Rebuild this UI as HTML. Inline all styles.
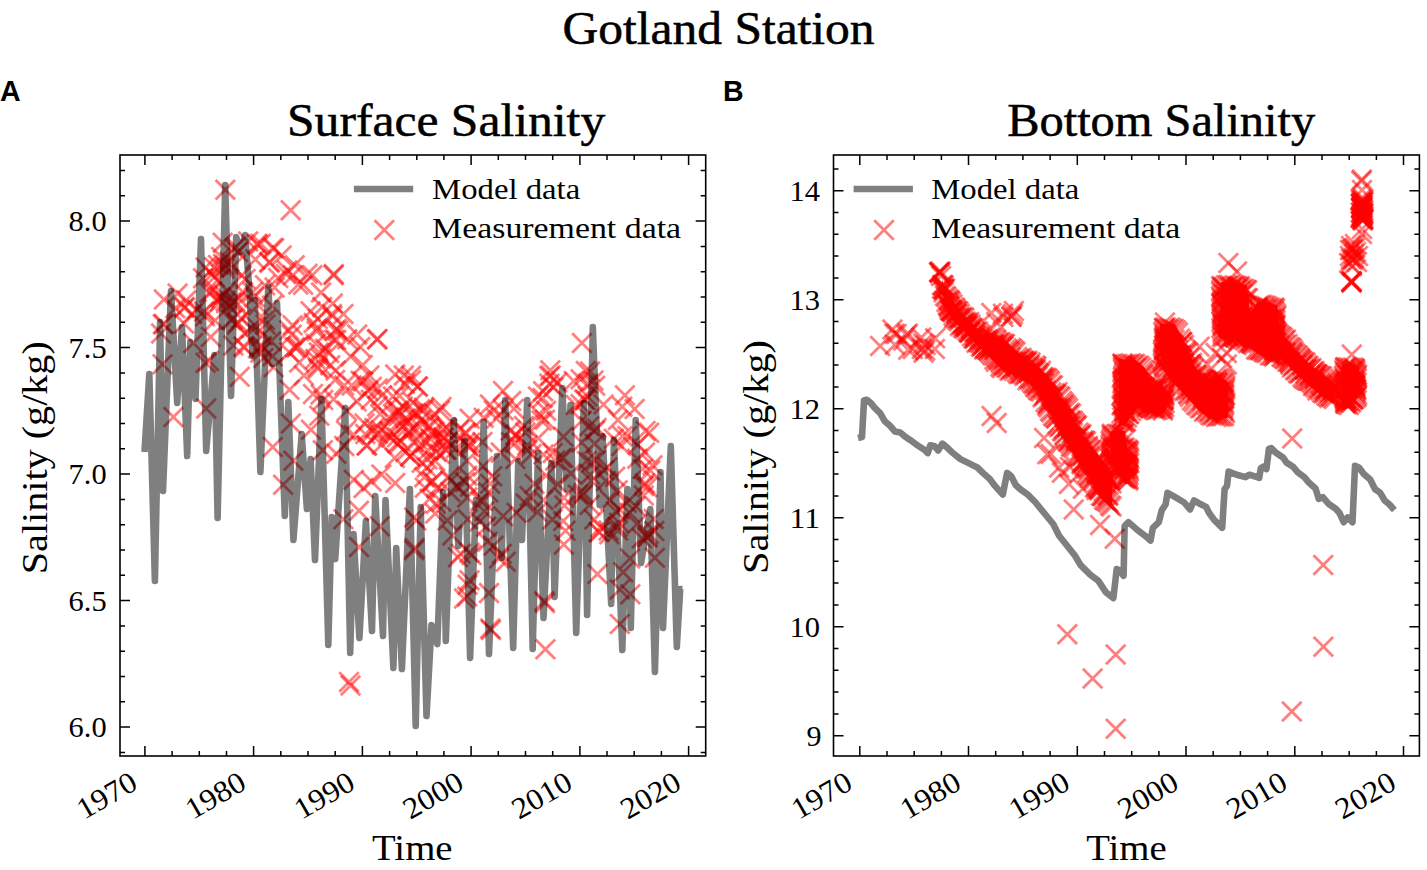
<!DOCTYPE html><html><head><meta charset="utf-8"><style>html,body{margin:0;padding:0;background:#fff;width:1427px;height:870px;overflow:hidden}svg{display:block}text{font-family:"Liberation Serif",serif;fill:#000}.t{stroke:#000;stroke-width:0.5px}</style></head><body>
<svg width="1427" height="870" viewBox="0 0 1427 870">
<defs><path id="m" d="M-9.75,-9.75L9.75,9.75M-9.75,9.75L9.75,-9.75" stroke="#ff0000" stroke-opacity="0.5" stroke-width="2.8" fill="none"/>
<clipPath id="cl"><rect x="120" y="155" width="585.7" height="601"/></clipPath>
<clipPath id="cr"><rect x="833.5" y="155" width="585.9" height="601"/></clipPath></defs>
<rect width="1427" height="870" fill="#fff"/>
<g clip-path="url(#cl)">
<use href="#m" x="225.3" y="189.8"/>
<use href="#m" x="290.7" y="210.2"/>
<use href="#m" x="333.8" y="274"/>
<use href="#m" x="376.9" y="339.5"/>
<use href="#m" x="173.4" y="417"/>
<use href="#m" x="206.2" y="408.4"/>
<use href="#m" x="581.9" y="342.9"/>
<use href="#m" x="349" y="682"/>
<use href="#m" x="350.5" y="685.5"/>
<use href="#m" x="545.4" y="649.3"/>
<use href="#m" x="490.2" y="628.6"/>
<use href="#m" x="491" y="630"/>
<use href="#m" x="469.5" y="580.3"/>
<use href="#m" x="467.2" y="596.4"/>
<use href="#m" x="489" y="592.9"/>
<use href="#m" x="458" y="557.3"/>
<use href="#m" x="469.5" y="552.7"/>
<use href="#m" x="501.7" y="553.8"/>
<use href="#m" x="544.2" y="601"/>
<use href="#m" x="545" y="603"/>
<use href="#m" x="563.8" y="544.6"/>
<use href="#m" x="597.4" y="574"/>
<use href="#m" x="619.8" y="589.5"/>
<use href="#m" x="619.8" y="624"/>
<use href="#m" x="623.2" y="572.2"/>
<use href="#m" x="630.1" y="558.4"/>
<use href="#m" x="637" y="524"/>
<use href="#m" x="644" y="486"/>
<use href="#m" x="647.4" y="537.8"/>
<use href="#m" x="634.6" y="409"/>
<use href="#m" x="649.1" y="432.8"/>
<use href="#m" x="645" y="452.4"/>
<use href="#m" x="645" y="483.5"/>
<use href="#m" x="414.6" y="548.1"/>
<use href="#m" x="416.3" y="520.5"/>
<use href="#m" x="447.4" y="520.5"/>
<use href="#m" x="471.5" y="555"/>
<use href="#m" x="499.1" y="558.4"/>
<use href="#m" x="177.6" y="293.5"/>
<use href="#m" x="196.8" y="309.2"/>
<use href="#m" x="175.3" y="308.3"/>
<use href="#m" x="184.6" y="307"/>
<use href="#m" x="163.8" y="324.1"/>
<use href="#m" x="184.4" y="308"/>
<use href="#m" x="184" y="323.6"/>
<use href="#m" x="203" y="278.3"/>
<use href="#m" x="204" y="311.6"/>
<use href="#m" x="287.1" y="270.4"/>
<use href="#m" x="322.2" y="307"/>
<use href="#m" x="260.7" y="243.8"/>
<use href="#m" x="260.3" y="352.7"/>
<use href="#m" x="364.5" y="423.4"/>
<use href="#m" x="205.6" y="362.7"/>
<use href="#m" x="346.9" y="410.7"/>
<use href="#m" x="234.2" y="248.5"/>
<use href="#m" x="272.6" y="356.3"/>
<use href="#m" x="299.2" y="362.6"/>
<use href="#m" x="242.9" y="292.1"/>
<use href="#m" x="320.6" y="394.4"/>
<use href="#m" x="336.6" y="329.1"/>
<use href="#m" x="347.3" y="339.3"/>
<use href="#m" x="335.7" y="370.4"/>
<use href="#m" x="235.3" y="301.5"/>
<use href="#m" x="289.5" y="389.8"/>
<use href="#m" x="211.8" y="274.4"/>
<use href="#m" x="365.3" y="434.1"/>
<use href="#m" x="229.5" y="261.4"/>
<use href="#m" x="292.9" y="275.3"/>
<use href="#m" x="257.8" y="244.8"/>
<use href="#m" x="321" y="292.6"/>
<use href="#m" x="367.1" y="445.6"/>
<use href="#m" x="333.6" y="399.2"/>
<use href="#m" x="264.9" y="320"/>
<use href="#m" x="329.1" y="353"/>
<use href="#m" x="215" y="320.4"/>
<use href="#m" x="258.1" y="305.2"/>
<use href="#m" x="273.6" y="367.3"/>
<use href="#m" x="237.9" y="322.6"/>
<use href="#m" x="318.9" y="352.6"/>
<use href="#m" x="218" y="265.1"/>
<use href="#m" x="362.7" y="365.1"/>
<use href="#m" x="231.7" y="267.7"/>
<use href="#m" x="292.6" y="325.2"/>
<use href="#m" x="205.5" y="267.6"/>
<use href="#m" x="285.9" y="274"/>
<use href="#m" x="304" y="375.6"/>
<use href="#m" x="220.6" y="297.7"/>
<use href="#m" x="271.2" y="341.3"/>
<use href="#m" x="360.6" y="380.8"/>
<use href="#m" x="244.7" y="333.2"/>
<use href="#m" x="209.4" y="292.7"/>
<use href="#m" x="269.3" y="262.1"/>
<use href="#m" x="315.8" y="343.8"/>
<use href="#m" x="245.6" y="279"/>
<use href="#m" x="317.8" y="319"/>
<use href="#m" x="216" y="300.1"/>
<use href="#m" x="236.8" y="305"/>
<use href="#m" x="237.9" y="251.9"/>
<use href="#m" x="350.7" y="356.4"/>
<use href="#m" x="252.6" y="292.3"/>
<use href="#m" x="318" y="368.6"/>
<use href="#m" x="335.1" y="330.8"/>
<use href="#m" x="274.6" y="287.6"/>
<use href="#m" x="289.2" y="330.2"/>
<use href="#m" x="307.6" y="273.8"/>
<use href="#m" x="265.5" y="324.5"/>
<use href="#m" x="210.8" y="337.1"/>
<use href="#m" x="316.8" y="328.4"/>
<use href="#m" x="278.2" y="278.1"/>
<use href="#m" x="325.2" y="348.7"/>
<use href="#m" x="248.2" y="241.4"/>
<use href="#m" x="261.2" y="347.7"/>
<use href="#m" x="315.2" y="358.9"/>
<use href="#m" x="357.2" y="334.4"/>
<use href="#m" x="303.2" y="284.7"/>
<use href="#m" x="269.7" y="262.7"/>
<use href="#m" x="261.9" y="345.9"/>
<use href="#m" x="323.2" y="400.1"/>
<use href="#m" x="217.3" y="280.5"/>
<use href="#m" x="332.8" y="303.4"/>
<use href="#m" x="235.9" y="247"/>
<use href="#m" x="338.3" y="331.1"/>
<use href="#m" x="274.2" y="248.2"/>
<use href="#m" x="223.5" y="294.8"/>
<use href="#m" x="334" y="339.8"/>
<use href="#m" x="257.1" y="243.8"/>
<use href="#m" x="221.2" y="256.9"/>
<use href="#m" x="238.6" y="298.6"/>
<use href="#m" x="263.5" y="358.1"/>
<use href="#m" x="251.3" y="328"/>
<use href="#m" x="220" y="301.4"/>
<use href="#m" x="294.6" y="347.3"/>
<use href="#m" x="271.9" y="305.8"/>
<use href="#m" x="331.8" y="314"/>
<use href="#m" x="291.7" y="334.8"/>
<use href="#m" x="332.4" y="316.1"/>
<use href="#m" x="272.6" y="248.1"/>
<use href="#m" x="313" y="394"/>
<use href="#m" x="262.6" y="335.6"/>
<use href="#m" x="312.3" y="275.2"/>
<use href="#m" x="281.6" y="255.6"/>
<use href="#m" x="256.1" y="326.5"/>
<use href="#m" x="225.5" y="300.7"/>
<use href="#m" x="214.2" y="267.2"/>
<use href="#m" x="360.2" y="347"/>
<use href="#m" x="233.4" y="345.6"/>
<use href="#m" x="255.3" y="259.4"/>
<use href="#m" x="220.7" y="296.8"/>
<use href="#m" x="214.6" y="277.1"/>
<use href="#m" x="241.2" y="318.6"/>
<use href="#m" x="231.4" y="302.3"/>
<use href="#m" x="244.4" y="347.5"/>
<use href="#m" x="366.5" y="445.5"/>
<use href="#m" x="351.7" y="385.4"/>
<use href="#m" x="356.7" y="401.6"/>
<use href="#m" x="231" y="320.1"/>
<use href="#m" x="343.4" y="313.9"/>
<use href="#m" x="236.8" y="324.8"/>
<use href="#m" x="330.2" y="365.3"/>
<use href="#m" x="224.9" y="265.5"/>
<use href="#m" x="243.4" y="346.4"/>
<use href="#m" x="241.7" y="275.5"/>
<use href="#m" x="317.3" y="366.7"/>
<use href="#m" x="296.6" y="347.6"/>
<use href="#m" x="346" y="430.4"/>
<use href="#m" x="222.7" y="242.8"/>
<use href="#m" x="353.9" y="434.9"/>
<use href="#m" x="265" y="285.2"/>
<use href="#m" x="316.6" y="330.9"/>
<use href="#m" x="223.1" y="263.9"/>
<use href="#m" x="254.5" y="297"/>
<use href="#m" x="232.9" y="319.1"/>
<use href="#m" x="363.1" y="381.6"/>
<use href="#m" x="298" y="346.2"/>
<use href="#m" x="335.1" y="380.1"/>
<use href="#m" x="289.2" y="352.2"/>
<use href="#m" x="208.9" y="360.9"/>
<use href="#m" x="457.9" y="486.7"/>
<use href="#m" x="388.2" y="436.1"/>
<use href="#m" x="370.8" y="399.8"/>
<use href="#m" x="389.5" y="431.6"/>
<use href="#m" x="393" y="396.4"/>
<use href="#m" x="447.4" y="441.9"/>
<use href="#m" x="424" y="407.8"/>
<use href="#m" x="424.3" y="477.3"/>
<use href="#m" x="446.5" y="449.8"/>
<use href="#m" x="380.8" y="429.9"/>
<use href="#m" x="398.7" y="415.9"/>
<use href="#m" x="389" y="417.5"/>
<use href="#m" x="436.2" y="451.7"/>
<use href="#m" x="432.6" y="481.2"/>
<use href="#m" x="449" y="477.3"/>
<use href="#m" x="467" y="460.8"/>
<use href="#m" x="421.7" y="462.8"/>
<use href="#m" x="465.1" y="482.3"/>
<use href="#m" x="459.7" y="429.5"/>
<use href="#m" x="410.2" y="456.5"/>
<use href="#m" x="441.3" y="501.8"/>
<use href="#m" x="394.6" y="415.5"/>
<use href="#m" x="409.3" y="430.9"/>
<use href="#m" x="377.3" y="406.5"/>
<use href="#m" x="432.2" y="481.8"/>
<use href="#m" x="391" y="437.4"/>
<use href="#m" x="443.1" y="429.7"/>
<use href="#m" x="369.4" y="375.4"/>
<use href="#m" x="435.9" y="503.8"/>
<use href="#m" x="406.7" y="422.9"/>
<use href="#m" x="430.7" y="439.2"/>
<use href="#m" x="371.9" y="386.7"/>
<use href="#m" x="428.1" y="450.6"/>
<use href="#m" x="402.7" y="426.8"/>
<use href="#m" x="381.7" y="444.5"/>
<use href="#m" x="405.4" y="452.1"/>
<use href="#m" x="424.8" y="487.8"/>
<use href="#m" x="447.6" y="429"/>
<use href="#m" x="413.1" y="402.5"/>
<use href="#m" x="443.5" y="438"/>
<use href="#m" x="465.7" y="433.6"/>
<use href="#m" x="418.8" y="445.9"/>
<use href="#m" x="450.7" y="480.8"/>
<use href="#m" x="456.1" y="448.2"/>
<use href="#m" x="377.7" y="388.6"/>
<use href="#m" x="372.6" y="430.9"/>
<use href="#m" x="436.6" y="488.4"/>
<use href="#m" x="446.1" y="427.6"/>
<use href="#m" x="374.4" y="428.1"/>
<use href="#m" x="368.1" y="390.8"/>
<use href="#m" x="426.8" y="467.5"/>
<use href="#m" x="429.6" y="498.8"/>
<use href="#m" x="465.5" y="442.4"/>
<use href="#m" x="399.5" y="395.7"/>
<use href="#m" x="380.1" y="414"/>
<use href="#m" x="432.2" y="432.2"/>
<use href="#m" x="377.9" y="433.8"/>
<use href="#m" x="435.2" y="460.9"/>
<use href="#m" x="382.1" y="395.2"/>
<use href="#m" x="394.8" y="458"/>
<use href="#m" x="441.4" y="406.9"/>
<use href="#m" x="441.9" y="441.5"/>
<use href="#m" x="434.9" y="414.3"/>
<use href="#m" x="443.4" y="437.3"/>
<use href="#m" x="402.8" y="406.4"/>
<use href="#m" x="414.5" y="428.2"/>
<use href="#m" x="397.2" y="443.2"/>
<use href="#m" x="429" y="425.7"/>
<use href="#m" x="420.1" y="409.2"/>
<use href="#m" x="432.6" y="434.7"/>
<use href="#m" x="397.1" y="437.3"/>
<use href="#m" x="413.4" y="442.3"/>
<use href="#m" x="412.8" y="413.5"/>
<use href="#m" x="405.6" y="418.3"/>
<use href="#m" x="399.5" y="411.5"/>
<use href="#m" x="419.2" y="427.1"/>
<use href="#m" x="423.3" y="410.3"/>
<use href="#m" x="397.2" y="410.9"/>
<use href="#m" x="440.1" y="410.5"/>
<use href="#m" x="429.5" y="427.2"/>
<use href="#m" x="425.4" y="442.5"/>
<use href="#m" x="408.5" y="433.1"/>
<use href="#m" x="421.4" y="419.7"/>
<use href="#m" x="415.7" y="413.1"/>
<use href="#m" x="400.9" y="441.9"/>
<use href="#m" x="403.8" y="375.4"/>
<use href="#m" x="411.1" y="375.7"/>
<use href="#m" x="404.8" y="383.7"/>
<use href="#m" x="410.9" y="380.2"/>
<use href="#m" x="418" y="386.4"/>
<use href="#m" x="395.2" y="374.4"/>
<use href="#m" x="514" y="408.8"/>
<use href="#m" x="564" y="497.8"/>
<use href="#m" x="606" y="480.9"/>
<use href="#m" x="546.1" y="410.7"/>
<use href="#m" x="617.7" y="490.3"/>
<use href="#m" x="591.1" y="462.3"/>
<use href="#m" x="615.2" y="476.8"/>
<use href="#m" x="515" y="442.9"/>
<use href="#m" x="523.9" y="425.9"/>
<use href="#m" x="635.7" y="506.2"/>
<use href="#m" x="581.6" y="442.4"/>
<use href="#m" x="557.2" y="382.5"/>
<use href="#m" x="555.2" y="460.4"/>
<use href="#m" x="531.6" y="454.1"/>
<use href="#m" x="654.9" y="557.7"/>
<use href="#m" x="479.6" y="521.6"/>
<use href="#m" x="616" y="511.3"/>
<use href="#m" x="617.9" y="419.9"/>
<use href="#m" x="490.1" y="483.7"/>
<use href="#m" x="622.3" y="406.7"/>
<use href="#m" x="467.7" y="519.2"/>
<use href="#m" x="637.9" y="444.6"/>
<use href="#m" x="622.5" y="436.2"/>
<use href="#m" x="624.9" y="395.3"/>
<use href="#m" x="580.6" y="404.3"/>
<use href="#m" x="585.8" y="371"/>
<use href="#m" x="588" y="383.8"/>
<use href="#m" x="549.3" y="376.3"/>
<use href="#m" x="537.9" y="396.6"/>
<use href="#m" x="527.3" y="450.5"/>
<use href="#m" x="590.2" y="474.8"/>
<use href="#m" x="564.5" y="505.6"/>
<use href="#m" x="543.1" y="391.3"/>
<use href="#m" x="595.2" y="430.5"/>
<use href="#m" x="642.6" y="468.9"/>
<use href="#m" x="467.6" y="446.1"/>
<use href="#m" x="647.3" y="487.3"/>
<use href="#m" x="621.3" y="445.9"/>
<use href="#m" x="580.6" y="379.3"/>
<use href="#m" x="503.5" y="410.2"/>
<use href="#m" x="541.5" y="420.5"/>
<use href="#m" x="571" y="473.4"/>
<use href="#m" x="510.6" y="430.4"/>
<use href="#m" x="469.7" y="418.8"/>
<use href="#m" x="537.5" y="512"/>
<use href="#m" x="500.8" y="452.4"/>
<use href="#m" x="467.4" y="475.8"/>
<use href="#m" x="545" y="419.7"/>
<use href="#m" x="539.1" y="414"/>
<use href="#m" x="542.5" y="398.1"/>
<use href="#m" x="600.4" y="527.3"/>
<use href="#m" x="637.3" y="458.8"/>
<use href="#m" x="467.2" y="497.6"/>
<use href="#m" x="552.7" y="453.1"/>
<use href="#m" x="589.6" y="504.9"/>
<use href="#m" x="563.4" y="436.8"/>
<use href="#m" x="490" y="404.6"/>
<use href="#m" x="496.4" y="418.4"/>
<use href="#m" x="643.8" y="495.4"/>
<use href="#m" x="470.2" y="442.7"/>
<use href="#m" x="543.3" y="500"/>
<use href="#m" x="543.5" y="454.6"/>
<use href="#m" x="515.2" y="435.6"/>
<use href="#m" x="480.2" y="501"/>
<use href="#m" x="557.9" y="484.2"/>
<use href="#m" x="573.7" y="381"/>
<use href="#m" x="516.1" y="434.6"/>
<use href="#m" x="613.8" y="438.7"/>
<use href="#m" x="648.5" y="533.7"/>
<use href="#m" x="596.2" y="460"/>
<use href="#m" x="596.6" y="428.1"/>
<use href="#m" x="484.4" y="511.3"/>
<use href="#m" x="552.3" y="519.5"/>
<use href="#m" x="604.1" y="470.2"/>
<use href="#m" x="546.1" y="475.5"/>
<use href="#m" x="511.1" y="442.2"/>
<use href="#m" x="525.7" y="503.4"/>
<use href="#m" x="645.5" y="431.1"/>
<use href="#m" x="469.7" y="447"/>
<use href="#m" x="594.7" y="443.7"/>
<use href="#m" x="609.4" y="534.3"/>
<use href="#m" x="591.6" y="480.8"/>
<use href="#m" x="492.2" y="476.3"/>
<use href="#m" x="584.2" y="399.6"/>
<use href="#m" x="469.9" y="486.8"/>
<use href="#m" x="653.7" y="519"/>
<use href="#m" x="503.1" y="516.2"/>
<use href="#m" x="525.3" y="432.4"/>
<use href="#m" x="619.6" y="509.5"/>
<use href="#m" x="641.9" y="538.3"/>
<use href="#m" x="465.4" y="432.4"/>
<use href="#m" x="575.7" y="404.9"/>
<use href="#m" x="626.7" y="502.8"/>
<use href="#m" x="608.6" y="530.4"/>
<use href="#m" x="599.5" y="532.2"/>
<use href="#m" x="553.6" y="387.2"/>
<use href="#m" x="563.2" y="520.9"/>
<use href="#m" x="581.7" y="420.7"/>
<use href="#m" x="483.7" y="417.8"/>
<use href="#m" x="488.3" y="492.6"/>
<use href="#m" x="527.4" y="445.2"/>
<use href="#m" x="650.3" y="470.6"/>
<use href="#m" x="589.2" y="426.2"/>
<use href="#m" x="538.3" y="438.3"/>
<use href="#m" x="549.5" y="383.8"/>
<use href="#m" x="586.9" y="461"/>
<use href="#m" x="486.2" y="526.7"/>
<use href="#m" x="652.5" y="465.3"/>
<use href="#m" x="529.7" y="496.3"/>
<use href="#m" x="561.2" y="458.1"/>
<use href="#m" x="610.2" y="500.4"/>
<use href="#m" x="515.4" y="459"/>
<use href="#m" x="619" y="522.8"/>
<use href="#m" x="629.6" y="512.8"/>
<use href="#m" x="590.1" y="371.5"/>
<use href="#m" x="534.5" y="483.7"/>
<use href="#m" x="511.2" y="400.9"/>
<use href="#m" x="577.9" y="494.8"/>
<use href="#m" x="654.3" y="531.1"/>
<use href="#m" x="550.3" y="370.3"/>
<use href="#m" x="594.2" y="519.5"/>
<use href="#m" x="563.4" y="457.8"/>
<use href="#m" x="482.5" y="442"/>
<use href="#m" x="452.3" y="535.5"/>
<use href="#m" x="319.3" y="415.8"/>
<use href="#m" x="450.3" y="492.1"/>
<use href="#m" x="257.9" y="348.3"/>
<use href="#m" x="226.1" y="303.2"/>
<use href="#m" x="598.6" y="532"/>
<use href="#m" x="627.4" y="436"/>
<use href="#m" x="607.5" y="467.3"/>
<use href="#m" x="239.7" y="376.7"/>
<use href="#m" x="630.3" y="594.3"/>
<use href="#m" x="336.2" y="340"/>
<use href="#m" x="617.6" y="526.8"/>
<use href="#m" x="618" y="530.6"/>
<use href="#m" x="647.4" y="536.4"/>
<use href="#m" x="565.5" y="530.7"/>
<use href="#m" x="371.6" y="481.4"/>
<use href="#m" x="363.6" y="488"/>
<use href="#m" x="427.5" y="459.3"/>
<use href="#m" x="162.9" y="324.2"/>
<use href="#m" x="294.7" y="265.3"/>
<use href="#m" x="313.6" y="323"/>
<use href="#m" x="212.1" y="291.3"/>
<use href="#m" x="585.6" y="399.9"/>
<use href="#m" x="505.8" y="561.8"/>
<use href="#m" x="162.5" y="364.2"/>
<use href="#m" x="224.8" y="268.8"/>
<use href="#m" x="311" y="429.7"/>
<use href="#m" x="593.5" y="380.6"/>
<use href="#m" x="550.7" y="375.6"/>
<use href="#m" x="336.3" y="453.8"/>
<use href="#m" x="595.2" y="385.7"/>
<use href="#m" x="439.8" y="453.7"/>
<use href="#m" x="493.5" y="545.7"/>
<use href="#m" x="435.2" y="513.6"/>
<use href="#m" x="603.5" y="404.6"/>
<use href="#m" x="186.3" y="300.2"/>
<use href="#m" x="410.4" y="456.2"/>
<use href="#m" x="582.6" y="495.2"/>
<use href="#m" x="483.2" y="501.1"/>
<use href="#m" x="483.1" y="466.3"/>
<use href="#m" x="487.4" y="541.8"/>
<use href="#m" x="583.7" y="492.9"/>
<use href="#m" x="493.8" y="410.4"/>
<use href="#m" x="321" y="358.5"/>
<use href="#m" x="310.6" y="311.2"/>
<use href="#m" x="344.2" y="445.9"/>
<use href="#m" x="290.8" y="423.4"/>
<use href="#m" x="161.1" y="333.5"/>
<use href="#m" x="516.5" y="512.7"/>
<use href="#m" x="163.9" y="299.6"/>
<use href="#m" x="193.2" y="343"/>
<use href="#m" x="205.1" y="316.3"/>
<use href="#m" x="298.3" y="284.5"/>
<use href="#m" x="344.2" y="385.4"/>
<use href="#m" x="445.4" y="449.8"/>
<use href="#m" x="192.2" y="314.1"/>
<use href="#m" x="503" y="391.1"/>
<use href="#m" x="417.4" y="386.5"/>
<use href="#m" x="587.5" y="396.4"/>
<use href="#m" x="272.8" y="446.9"/>
<use href="#m" x="293.4" y="460.7"/>
<use href="#m" x="283.1" y="484.8"/>
<use href="#m" x="322.8" y="450.3"/>
<use href="#m" x="353.8" y="479.7"/>
<use href="#m" x="359" y="510.7"/>
<use href="#m" x="343.4" y="519.3"/>
<use href="#m" x="359" y="546.9"/>
<use href="#m" x="379.7" y="526.2"/>
<use href="#m" x="381.4" y="474.5"/>
<use href="#m" x="395.2" y="483.1"/>
<use href="#m" x="414.1" y="517.6"/>
<use href="#m" x="414.1" y="550.3"/>
<use href="#m" x="460.7" y="553.8"/>
<use href="#m" x="467.6" y="584.8"/>
<use href="#m" x="464.1" y="598.6"/>
<use href="#m" x="333.6" y="275.2"/>
<use href="#m" x="377.6" y="339"/>
</g>
<path clip-path="url(#cl)" d="M144.5,452L149.3,374L154.9,581L160.1,322L163,491L171,291L177.2,403L182,327L187.2,456L190.3,342L195.5,399L201,239L206.2,451L214.5,355L217.6,518L225.2,185L231,396L236.2,237L240.5,252L245.1,235L250,298L252.5,356L254.8,300L260.4,472L268.3,287L272.4,364L277,303L284.8,516L288.3,402L293.4,540L301.7,434L306.9,509L310.6,459L315,560L321.4,399L328.3,645L331.7,517L335.2,559L345.2,408L350.2,653L353.5,534L359.4,638L365.9,521L372,631L375.2,496L383,636L385.5,500L393.4,668L396.2,548L401.9,669L409.9,489L415.7,726L420.7,507L426.5,716L431.5,625L437.3,644L443.2,492L445.8,641L453.7,420L458.3,546L464.5,441L470.1,658L476,500L480,521L483.7,422L489,654L497,456L501.7,558L505.2,400L513.2,648L518.3,461L522,540L527.2,400L532.7,649L538,453L543.5,618L551.4,463L554.6,597L562.3,388L566.9,489L570.5,405L576.2,633L583.9,403L587.1,615L592.8,327L599.7,505L602.6,436L611.2,604L613.9,440L622.3,650L627.4,489L630.8,628L635.7,420L641.1,563L650.3,509L654.9,672L660.5,472L663,628L670.8,446L676.8,647L680.2,589L682.5,589" fill="none" stroke="#000" stroke-opacity="0.5" stroke-width="6.6" stroke-linejoin="round" stroke-linecap="butt"/>
<g clip-path="url(#cr)" fill="#ff0000">
<path d="M942,280L946,290L952,303L968,321L985,336L1003,341L1020,355L1037,366L1046,376L1055,388L1069,410L1085,439L1095,452L1104,463L1112,482L1112,508L1104,501L1095,488L1085,471L1069,446L1055,422L1046,404L1037,390L1020,375L1003,369L985,352L968,335L952,317L946,306L942,290Z"/>
<path d="M1110,432L1112,431L1119,431L1125,431L1130,474L1130,484L1125,484L1119,476L1112,464L1110,436Z"/>
<path d="M1119,358L1125,360L1134,360L1140,363L1145,368L1152,386L1159,381L1164,387L1168,397L1168,405L1164,413L1159,414L1152,413L1145,409L1140,407L1134,410L1125,426L1119,425Z"/>
<path d="M1160,324L1166,324L1175,324L1187,347L1198,374L1210,379L1219,375L1230,384L1228,385L1228,417L1230,417L1219,420L1210,419L1198,410L1187,397L1175,385L1166,374L1160,353Z"/>
<path d="M1218,319L1220,319L1221,282L1233,282L1247,285L1250,314L1258,301L1277,305L1279,319L1279,367L1277,361L1258,354L1250,347L1247,345L1233,341L1221,339L1220,338L1218,336Z"/>
<path d="M1274,325L1284,336L1295,350L1318,372L1334,383L1334,403L1318,392L1295,372L1284,360L1274,351Z"/>
<path d="M1342,365L1350,363L1359,367L1359,393L1350,408L1342,409Z"/>
</g>
<g clip-path="url(#cr)">
<use href="#m" x="991.6" y="416"/>
<use href="#m" x="996.7" y="423"/>
<use href="#m" x="1067.3" y="634.2"/>
<use href="#m" x="1092.6" y="678.4"/>
<use href="#m" x="1115.7" y="654.6"/>
<use href="#m" x="1115.7" y="728.8"/>
<use href="#m" x="1291.8" y="711.4"/>
<use href="#m" x="1323.4" y="646.8"/>
<use href="#m" x="1292.2" y="438.6"/>
<use href="#m" x="1323.2" y="565.1"/>
<use href="#m" x="1073.7" y="509.4"/>
<use href="#m" x="1100.1" y="525"/>
<use href="#m" x="1114.8" y="538.7"/>
<use href="#m" x="1068.9" y="484"/>
<use href="#m" x="1059.1" y="467.4"/>
<use href="#m" x="1361.4" y="181"/>
<use href="#m" x="1351.8" y="281.1"/>
<use href="#m" x="1351.8" y="354.4"/>
<use href="#m" x="1228.4" y="262.9"/>
<use href="#m" x="1237" y="271.6"/>
<use href="#m" x="1165" y="322.4"/>
<use href="#m" x="912.8" y="349"/>
<use href="#m" x="934.9" y="348.9"/>
<use href="#m" x="923.1" y="343.6"/>
<use href="#m" x="894.3" y="333.8"/>
<use href="#m" x="921.3" y="337.4"/>
<use href="#m" x="903.2" y="340.6"/>
<use href="#m" x="925.2" y="350.4"/>
<use href="#m" x="880.1" y="345.9"/>
<use href="#m" x="894.8" y="344.7"/>
<use href="#m" x="925.6" y="345"/>
<use href="#m" x="907.9" y="333.6"/>
<use href="#m" x="908.2" y="349.8"/>
<use href="#m" x="892.4" y="329.6"/>
<use href="#m" x="935.1" y="338.3"/>
<use href="#m" x="906.6" y="335"/>
<use href="#m" x="923.5" y="352.7"/>
<use href="#m" x="896.6" y="333.9"/>
<use href="#m" x="921.9" y="348.9"/>
<use href="#m" x="939.5" y="272.5"/>
<use href="#m" x="940" y="273"/>
<use href="#m" x="939" y="272"/>
<use href="#m" x="940.5" y="271.5"/>
<use href="#m" x="939.7" y="272.2"/>
<use href="#m" x="941" y="276"/>
<use href="#m" x="943" y="285"/>
<use href="#m" x="944" y="290"/>
<use href="#m" x="1051.2" y="392.5"/>
<use href="#m" x="956.8" y="313.5"/>
<use href="#m" x="1076" y="426.3"/>
<use href="#m" x="1032.7" y="371.7"/>
<use href="#m" x="991" y="345.4"/>
<use href="#m" x="1042.6" y="378.7"/>
<use href="#m" x="969" y="331.8"/>
<use href="#m" x="1070.3" y="426"/>
<use href="#m" x="984.3" y="344.2"/>
<use href="#m" x="1100.5" y="486.4"/>
<use href="#m" x="1017.3" y="365.5"/>
<use href="#m" x="1003.1" y="359.6"/>
<use href="#m" x="1030" y="364.9"/>
<use href="#m" x="1056.6" y="418.1"/>
<use href="#m" x="1024.4" y="363.3"/>
<use href="#m" x="993.6" y="344.4"/>
<use href="#m" x="1084.8" y="460.8"/>
<use href="#m" x="992.5" y="345.6"/>
<use href="#m" x="963.5" y="322.4"/>
<use href="#m" x="1107.9" y="495.1"/>
<use href="#m" x="1101" y="464.7"/>
<use href="#m" x="1099.3" y="488.6"/>
<use href="#m" x="1079.8" y="436.1"/>
<use href="#m" x="1089.7" y="475.4"/>
<use href="#m" x="1067.9" y="426.6"/>
<use href="#m" x="1000.3" y="361"/>
<use href="#m" x="1043.7" y="383.3"/>
<use href="#m" x="956" y="310.6"/>
<use href="#m" x="1061.3" y="409.5"/>
<use href="#m" x="964.5" y="322.5"/>
<use href="#m" x="1020.5" y="370.3"/>
<use href="#m" x="1022.6" y="361.6"/>
<use href="#m" x="1082.8" y="456"/>
<use href="#m" x="1034.8" y="383.3"/>
<use href="#m" x="1010.9" y="357.6"/>
<use href="#m" x="951.3" y="310.2"/>
<use href="#m" x="1047.7" y="403.2"/>
<use href="#m" x="943.3" y="288.8"/>
<use href="#m" x="1016.4" y="361.5"/>
<use href="#m" x="949.4" y="307.5"/>
<use href="#m" x="949.3" y="305.9"/>
<use href="#m" x="995.1" y="348.9"/>
<use href="#m" x="1084.5" y="446.3"/>
<use href="#m" x="1029" y="368.1"/>
<use href="#m" x="1045.7" y="390.6"/>
<use href="#m" x="1055.4" y="394.4"/>
<use href="#m" x="1049.6" y="399.9"/>
<use href="#m" x="953.5" y="315.5"/>
<use href="#m" x="1086.6" y="465.3"/>
<use href="#m" x="1075.7" y="439.3"/>
<use href="#m" x="1097.6" y="462.9"/>
<use href="#m" x="1068.4" y="441.3"/>
<use href="#m" x="952.7" y="311.9"/>
<use href="#m" x="1107.4" y="478"/>
<use href="#m" x="1037.1" y="385.2"/>
<use href="#m" x="986.8" y="341.9"/>
<use href="#m" x="1064" y="428.4"/>
<use href="#m" x="1102.1" y="484.3"/>
<use href="#m" x="951.2" y="311"/>
<use href="#m" x="990.6" y="348.3"/>
<use href="#m" x="1064.6" y="434.7"/>
<use href="#m" x="1035.7" y="370.7"/>
<use href="#m" x="1029" y="372.8"/>
<use href="#m" x="1069.9" y="420.2"/>
<use href="#m" x="1035.8" y="369.1"/>
<use href="#m" x="1109.5" y="479.5"/>
<use href="#m" x="1034" y="370.1"/>
<use href="#m" x="988.7" y="345"/>
<use href="#m" x="985" y="341.6"/>
<use href="#m" x="994.5" y="349.8"/>
<use href="#m" x="1104.6" y="473.9"/>
<use href="#m" x="971.3" y="327.3"/>
<use href="#m" x="1097.7" y="482.2"/>
<use href="#m" x="1083.2" y="442.7"/>
<use href="#m" x="1017" y="365.9"/>
<use href="#m" x="1032.3" y="378.4"/>
<use href="#m" x="975" y="338.2"/>
<use href="#m" x="1042.6" y="387.8"/>
<use href="#m" x="1041.6" y="383"/>
<use href="#m" x="944.1" y="289.5"/>
<use href="#m" x="1023.8" y="361.7"/>
<use href="#m" x="1043.2" y="379.8"/>
<use href="#m" x="1058.4" y="407.9"/>
<use href="#m" x="1053.8" y="396.5"/>
<use href="#m" x="963.2" y="323.9"/>
<use href="#m" x="1082.3" y="442.8"/>
<use href="#m" x="948.2" y="305.9"/>
<use href="#m" x="1070.1" y="437.7"/>
<use href="#m" x="1076.4" y="438.2"/>
<use href="#m" x="1103.7" y="491.4"/>
<use href="#m" x="1070.5" y="443.6"/>
<use href="#m" x="1096.4" y="473.8"/>
<use href="#m" x="951.6" y="309.9"/>
<use href="#m" x="1026.3" y="362.3"/>
<use href="#m" x="995.4" y="355.8"/>
<use href="#m" x="1048.2" y="403.8"/>
<use href="#m" x="1070.5" y="421.2"/>
<use href="#m" x="1063.3" y="405.3"/>
<use href="#m" x="1089.8" y="456.4"/>
<use href="#m" x="1107.1" y="474.6"/>
<use href="#m" x="1068.2" y="414.8"/>
<use href="#m" x="1088.7" y="469.3"/>
<use href="#m" x="1029.1" y="373"/>
<use href="#m" x="979.4" y="337.5"/>
<use href="#m" x="967.2" y="326.3"/>
<use href="#m" x="965.5" y="326.2"/>
<use href="#m" x="1025.8" y="367.2"/>
<use href="#m" x="1000.9" y="363"/>
<use href="#m" x="1103.1" y="496.1"/>
<use href="#m" x="1003.6" y="346.3"/>
<use href="#m" x="969.7" y="332.5"/>
<use href="#m" x="1001.7" y="346.7"/>
<use href="#m" x="1104.5" y="474.1"/>
<use href="#m" x="1037.3" y="376.8"/>
<use href="#m" x="965.5" y="324.1"/>
<use href="#m" x="1076" y="441.1"/>
<use href="#m" x="1087.8" y="446.1"/>
<use href="#m" x="960.3" y="318.8"/>
<use href="#m" x="1051.2" y="396.3"/>
<use href="#m" x="988.9" y="350.4"/>
<use href="#m" x="1087" y="462"/>
<use href="#m" x="964.5" y="326"/>
<use href="#m" x="1045.3" y="394.1"/>
<use href="#m" x="1067.1" y="426.7"/>
<use href="#m" x="1007.4" y="364.3"/>
<use href="#m" x="1099.3" y="489.8"/>
<use href="#m" x="993.6" y="344.7"/>
<use href="#m" x="974.7" y="335.9"/>
<use href="#m" x="1105.9" y="477.5"/>
<use href="#m" x="1018.4" y="364.7"/>
<use href="#m" x="1012.8" y="361.6"/>
<use href="#m" x="1005.1" y="358"/>
<use href="#m" x="1108.3" y="495.7"/>
<use href="#m" x="1105.7" y="482.4"/>
<use href="#m" x="967.4" y="325"/>
<use href="#m" x="981.3" y="343.1"/>
<use href="#m" x="979.9" y="339.8"/>
<use href="#m" x="1099.6" y="473.7"/>
<use href="#m" x="982.3" y="345.2"/>
<use href="#m" x="1108.4" y="478.3"/>
<use href="#m" x="1081.8" y="462.4"/>
<use href="#m" x="992.4" y="346.4"/>
<use href="#m" x="974.6" y="331.7"/>
<use href="#m" x="1072.8" y="432.7"/>
<use href="#m" x="994.6" y="347.6"/>
<use href="#m" x="1096.3" y="486.7"/>
<use href="#m" x="996.3" y="346.8"/>
<use href="#m" x="987.8" y="349.1"/>
<use href="#m" x="1096.5" y="462.7"/>
<use href="#m" x="959.8" y="317.4"/>
<use href="#m" x="1083.1" y="461"/>
<use href="#m" x="1103.5" y="478.8"/>
<use href="#m" x="949.4" y="300.7"/>
<use href="#m" x="1079.1" y="441.6"/>
<use href="#m" x="971" y="329"/>
<use href="#m" x="959" y="321.2"/>
<use href="#m" x="1015.1" y="362.2"/>
<use href="#m" x="976" y="335.7"/>
<use href="#m" x="985.1" y="348.5"/>
<use href="#m" x="1089.1" y="467.2"/>
<use href="#m" x="1037.9" y="383.5"/>
<use href="#m" x="956.4" y="313.8"/>
<use href="#m" x="942" y="285.3"/>
<use href="#m" x="942" y="288.7"/>
<use href="#m" x="943.5" y="285.6"/>
<use href="#m" x="943.5" y="292.3"/>
<use href="#m" x="945" y="288.3"/>
<use href="#m" x="945" y="296"/>
<use href="#m" x="946.5" y="296.8"/>
<use href="#m" x="946.5" y="302"/>
<use href="#m" x="948" y="299.1"/>
<use href="#m" x="948" y="304.7"/>
<use href="#m" x="949.5" y="300.3"/>
<use href="#m" x="949.5" y="309.7"/>
<use href="#m" x="951" y="301.9"/>
<use href="#m" x="951" y="310.9"/>
<use href="#m" x="952.5" y="304.4"/>
<use href="#m" x="952.5" y="311.6"/>
<use href="#m" x="954" y="307.5"/>
<use href="#m" x="954" y="318.3"/>
<use href="#m" x="955.5" y="308.3"/>
<use href="#m" x="955.5" y="317.5"/>
<use href="#m" x="957" y="311"/>
<use href="#m" x="957" y="319.7"/>
<use href="#m" x="958.5" y="311.6"/>
<use href="#m" x="958.5" y="318.6"/>
<use href="#m" x="960" y="314"/>
<use href="#m" x="960" y="325.9"/>
<use href="#m" x="961.5" y="317.2"/>
<use href="#m" x="961.5" y="324.4"/>
<use href="#m" x="963" y="317.1"/>
<use href="#m" x="963" y="327.7"/>
<use href="#m" x="964.5" y="318"/>
<use href="#m" x="964.5" y="328.7"/>
<use href="#m" x="966" y="321.7"/>
<use href="#m" x="966" y="327.2"/>
<use href="#m" x="967.5" y="323.4"/>
<use href="#m" x="967.5" y="330.5"/>
<use href="#m" x="969" y="321.9"/>
<use href="#m" x="969" y="332.7"/>
<use href="#m" x="970.5" y="324.4"/>
<use href="#m" x="970.5" y="332.1"/>
<use href="#m" x="972" y="328.6"/>
<use href="#m" x="972" y="336.3"/>
<use href="#m" x="973.5" y="328.2"/>
<use href="#m" x="973.5" y="338.7"/>
<use href="#m" x="975" y="332.4"/>
<use href="#m" x="975" y="338.2"/>
<use href="#m" x="976.5" y="331.7"/>
<use href="#m" x="976.5" y="342.8"/>
<use href="#m" x="978" y="331.4"/>
<use href="#m" x="978" y="341.7"/>
<use href="#m" x="979.5" y="334.1"/>
<use href="#m" x="979.5" y="342.7"/>
<use href="#m" x="981" y="335.8"/>
<use href="#m" x="981" y="346.7"/>
<use href="#m" x="982.5" y="339"/>
<use href="#m" x="982.5" y="346"/>
<use href="#m" x="984" y="336.8"/>
<use href="#m" x="984" y="349.6"/>
<use href="#m" x="985.5" y="340.4"/>
<use href="#m" x="985.5" y="348.1"/>
<use href="#m" x="987" y="339.2"/>
<use href="#m" x="987" y="349.4"/>
<use href="#m" x="988.5" y="340.1"/>
<use href="#m" x="988.5" y="350.6"/>
<use href="#m" x="990" y="337.8"/>
<use href="#m" x="990" y="352.3"/>
<use href="#m" x="991.5" y="338.3"/>
<use href="#m" x="991.5" y="353.9"/>
<use href="#m" x="993" y="340.2"/>
<use href="#m" x="993" y="355.4"/>
<use href="#m" x="994.5" y="344.2"/>
<use href="#m" x="994.5" y="359.6"/>
<use href="#m" x="996" y="340.6"/>
<use href="#m" x="996" y="361.8"/>
<use href="#m" x="997.5" y="342.4"/>
<use href="#m" x="997.5" y="357.9"/>
<use href="#m" x="999" y="342.7"/>
<use href="#m" x="999" y="359.7"/>
<use href="#m" x="1000.5" y="342"/>
<use href="#m" x="1000.5" y="366.4"/>
<use href="#m" x="1002" y="343.9"/>
<use href="#m" x="1002" y="368"/>
<use href="#m" x="1003.5" y="344.1"/>
<use href="#m" x="1003.5" y="365.2"/>
<use href="#m" x="1005" y="344"/>
<use href="#m" x="1005" y="365.2"/>
<use href="#m" x="1006.5" y="348.5"/>
<use href="#m" x="1006.5" y="367.8"/>
<use href="#m" x="1008" y="350.3"/>
<use href="#m" x="1008" y="367.6"/>
<use href="#m" x="1009.5" y="351.6"/>
<use href="#m" x="1009.5" y="370.7"/>
<use href="#m" x="1011" y="348"/>
<use href="#m" x="1011" y="369.8"/>
<use href="#m" x="1012.5" y="349.3"/>
<use href="#m" x="1012.5" y="368.5"/>
<use href="#m" x="1014" y="350.8"/>
<use href="#m" x="1014" y="370.7"/>
<use href="#m" x="1015.5" y="352"/>
<use href="#m" x="1015.5" y="367.9"/>
<use href="#m" x="1017" y="356.9"/>
<use href="#m" x="1017" y="372"/>
<use href="#m" x="1018.5" y="358.8"/>
<use href="#m" x="1018.5" y="373.9"/>
<use href="#m" x="1020" y="359.3"/>
<use href="#m" x="1020" y="374"/>
<use href="#m" x="1021.5" y="357.7"/>
<use href="#m" x="1021.5" y="373.1"/>
<use href="#m" x="1023" y="360.2"/>
<use href="#m" x="1023" y="374"/>
<use href="#m" x="1024.5" y="360.7"/>
<use href="#m" x="1024.5" y="375.9"/>
<use href="#m" x="1026" y="362"/>
<use href="#m" x="1026" y="374.5"/>
<use href="#m" x="1027.5" y="360.7"/>
<use href="#m" x="1027.5" y="380.2"/>
<use href="#m" x="1029" y="366"/>
<use href="#m" x="1029" y="378.2"/>
<use href="#m" x="1030.5" y="362.5"/>
<use href="#m" x="1030.5" y="379.7"/>
<use href="#m" x="1032" y="368"/>
<use href="#m" x="1032" y="382.2"/>
<use href="#m" x="1033.5" y="369.6"/>
<use href="#m" x="1033.5" y="383.9"/>
<use href="#m" x="1035" y="365.4"/>
<use href="#m" x="1035" y="386.8"/>
<use href="#m" x="1036.5" y="366.4"/>
<use href="#m" x="1036.5" y="387.7"/>
<use href="#m" x="1038" y="373.1"/>
<use href="#m" x="1038" y="390"/>
<use href="#m" x="1039.5" y="373.7"/>
<use href="#m" x="1039.5" y="390.4"/>
<use href="#m" x="1041" y="370.8"/>
<use href="#m" x="1041" y="391.6"/>
<use href="#m" x="1042.5" y="377.3"/>
<use href="#m" x="1042.5" y="397.3"/>
<use href="#m" x="1044" y="377.2"/>
<use href="#m" x="1044" y="396.1"/>
<use href="#m" x="1045.5" y="378.3"/>
<use href="#m" x="1045.5" y="402.1"/>
<use href="#m" x="1047" y="378"/>
<use href="#m" x="1047" y="405.4"/>
<use href="#m" x="1048.5" y="379.8"/>
<use href="#m" x="1048.5" y="407.3"/>
<use href="#m" x="1050" y="381.4"/>
<use href="#m" x="1050" y="411.1"/>
<use href="#m" x="1051.5" y="385.2"/>
<use href="#m" x="1051.5" y="412.3"/>
<use href="#m" x="1053" y="385.6"/>
<use href="#m" x="1053" y="416"/>
<use href="#m" x="1054.5" y="393.3"/>
<use href="#m" x="1054.5" y="416.8"/>
<use href="#m" x="1056" y="394.6"/>
<use href="#m" x="1056" y="418.6"/>
<use href="#m" x="1057.5" y="392.1"/>
<use href="#m" x="1057.5" y="424.3"/>
<use href="#m" x="1059" y="395.9"/>
<use href="#m" x="1059" y="427.1"/>
<use href="#m" x="1060.5" y="397"/>
<use href="#m" x="1060.5" y="426.2"/>
<use href="#m" x="1062" y="400.9"/>
<use href="#m" x="1062" y="431.1"/>
<use href="#m" x="1063.5" y="402.8"/>
<use href="#m" x="1063.5" y="431.3"/>
<use href="#m" x="1065" y="404.4"/>
<use href="#m" x="1065" y="435.3"/>
<use href="#m" x="1066.5" y="406.4"/>
<use href="#m" x="1066.5" y="439"/>
<use href="#m" x="1068" y="408.6"/>
<use href="#m" x="1068" y="441.4"/>
<use href="#m" x="1069.5" y="412.8"/>
<use href="#m" x="1069.5" y="441"/>
<use href="#m" x="1071" y="413.8"/>
<use href="#m" x="1071" y="446.6"/>
<use href="#m" x="1072.5" y="420.6"/>
<use href="#m" x="1072.5" y="446.5"/>
<use href="#m" x="1074" y="422.5"/>
<use href="#m" x="1074" y="448.3"/>
<use href="#m" x="1075.5" y="424.6"/>
<use href="#m" x="1075.5" y="455.1"/>
<use href="#m" x="1077" y="425.6"/>
<use href="#m" x="1077" y="455.3"/>
<use href="#m" x="1078.5" y="432.6"/>
<use href="#m" x="1078.5" y="456.5"/>
<use href="#m" x="1080" y="434.6"/>
<use href="#m" x="1080" y="457.7"/>
<use href="#m" x="1081.5" y="434.3"/>
<use href="#m" x="1081.5" y="464.2"/>
<use href="#m" x="1083" y="440.6"/>
<use href="#m" x="1083" y="463.6"/>
<use href="#m" x="1084.5" y="440.6"/>
<use href="#m" x="1084.5" y="466.2"/>
<use href="#m" x="1086" y="441.5"/>
<use href="#m" x="1086" y="468.7"/>
<use href="#m" x="1087.5" y="447.3"/>
<use href="#m" x="1087.5" y="472.7"/>
<use href="#m" x="1089" y="449.3"/>
<use href="#m" x="1089" y="475.2"/>
<use href="#m" x="1090.5" y="450.2"/>
<use href="#m" x="1090.5" y="477.7"/>
<use href="#m" x="1092" y="449.4"/>
<use href="#m" x="1092" y="479.8"/>
<use href="#m" x="1093.5" y="452.1"/>
<use href="#m" x="1093.5" y="480.8"/>
<use href="#m" x="1095" y="453.9"/>
<use href="#m" x="1095" y="487.5"/>
<use href="#m" x="1096.5" y="459.6"/>
<use href="#m" x="1096.5" y="490"/>
<use href="#m" x="1098" y="458.9"/>
<use href="#m" x="1098" y="488"/>
<use href="#m" x="1099.5" y="459.7"/>
<use href="#m" x="1099.5" y="490.3"/>
<use href="#m" x="1101" y="465.1"/>
<use href="#m" x="1101" y="495.8"/>
<use href="#m" x="1102.5" y="465.9"/>
<use href="#m" x="1102.5" y="496"/>
<use href="#m" x="1104" y="465.9"/>
<use href="#m" x="1104" y="499.4"/>
<use href="#m" x="1105.5" y="471.9"/>
<use href="#m" x="1105.5" y="500.6"/>
<use href="#m" x="1107" y="475.8"/>
<use href="#m" x="1107" y="501.2"/>
<use href="#m" x="1108.5" y="478.7"/>
<use href="#m" x="1108.5" y="502.6"/>
<use href="#m" x="1110" y="480.5"/>
<use href="#m" x="1110" y="505.2"/>
<use href="#m" x="1111.5" y="483.5"/>
<use href="#m" x="1111.5" y="506.6"/>
<use href="#m" x="1012.9" y="314.3"/>
<use href="#m" x="1011.3" y="316.4"/>
<use href="#m" x="991.3" y="312.9"/>
<use href="#m" x="996.1" y="321.9"/>
<use href="#m" x="1003" y="313.7"/>
<use href="#m" x="1011.6" y="316.7"/>
<use href="#m" x="1013.9" y="311"/>
<use href="#m" x="1003.4" y="317"/>
<use href="#m" x="1061.9" y="472.8"/>
<use href="#m" x="1050.7" y="454.1"/>
<use href="#m" x="1082.9" y="488.8"/>
<use href="#m" x="1047.3" y="454.3"/>
<use href="#m" x="1070" y="467"/>
<use href="#m" x="1044.1" y="437.9"/>
<use href="#m" x="1123.9" y="464.9"/>
<use href="#m" x="1124.6" y="478.1"/>
<use href="#m" x="1126.2" y="452.6"/>
<use href="#m" x="1122.5" y="462.5"/>
<use href="#m" x="1115.6" y="458.7"/>
<use href="#m" x="1126.6" y="464.6"/>
<use href="#m" x="1124.5" y="447.5"/>
<use href="#m" x="1125.5" y="451.5"/>
<use href="#m" x="1116.9" y="453.8"/>
<use href="#m" x="1121.8" y="454"/>
<use href="#m" x="1125.3" y="469.3"/>
<use href="#m" x="1120.4" y="469.4"/>
<use href="#m" x="1118.4" y="449"/>
<use href="#m" x="1127.7" y="457.9"/>
<use href="#m" x="1114.1" y="459.5"/>
<use href="#m" x="1123" y="448.6"/>
<use href="#m" x="1124.9" y="465.4"/>
<use href="#m" x="1119.2" y="454.8"/>
<use href="#m" x="1127.2" y="464.1"/>
<use href="#m" x="1113.7" y="447.2"/>
<use href="#m" x="1116.9" y="467"/>
<use href="#m" x="1119" y="449.8"/>
<use href="#m" x="1124.2" y="468.7"/>
<use href="#m" x="1112" y="433.7"/>
<use href="#m" x="1112" y="460.5"/>
<use href="#m" x="1114" y="436.3"/>
<use href="#m" x="1114" y="463.7"/>
<use href="#m" x="1116" y="434.3"/>
<use href="#m" x="1116" y="468.2"/>
<use href="#m" x="1118" y="433.7"/>
<use href="#m" x="1118" y="470.3"/>
<use href="#m" x="1120" y="434.1"/>
<use href="#m" x="1120" y="473.5"/>
<use href="#m" x="1122" y="434.7"/>
<use href="#m" x="1122" y="477.1"/>
<use href="#m" x="1124" y="433.7"/>
<use href="#m" x="1124" y="478.6"/>
<use href="#m" x="1126" y="439.1"/>
<use href="#m" x="1126" y="478.8"/>
<use href="#m" x="1128" y="450.4"/>
<use href="#m" x="1128" y="480.4"/>
<use href="#m" x="1111.6" y="435"/>
<use href="#m" x="1112.1" y="437"/>
<use href="#m" x="1111.8" y="439"/>
<use href="#m" x="1110.7" y="441"/>
<use href="#m" x="1111.5" y="443"/>
<use href="#m" x="1110.6" y="445"/>
<use href="#m" x="1110.8" y="447"/>
<use href="#m" x="1113" y="449"/>
<use href="#m" x="1112.8" y="451"/>
<use href="#m" x="1111.4" y="453"/>
<use href="#m" x="1110.6" y="455"/>
<use href="#m" x="1113.1" y="457"/>
<use href="#m" x="1110.7" y="459"/>
<use href="#m" x="1127.2" y="449.3"/>
<use href="#m" x="1129" y="451.3"/>
<use href="#m" x="1128.2" y="453.3"/>
<use href="#m" x="1127.8" y="455.3"/>
<use href="#m" x="1128.8" y="457.3"/>
<use href="#m" x="1129.3" y="459.3"/>
<use href="#m" x="1128.2" y="461.3"/>
<use href="#m" x="1129.3" y="463.3"/>
<use href="#m" x="1126.7" y="465.3"/>
<use href="#m" x="1128.1" y="467.3"/>
<use href="#m" x="1128.6" y="469.3"/>
<use href="#m" x="1129" y="471.3"/>
<use href="#m" x="1127.9" y="473.3"/>
<use href="#m" x="1128.4" y="475.3"/>
<use href="#m" x="1127.4" y="477.3"/>
<use href="#m" x="1128.7" y="479.3"/>
<use href="#m" x="1146.7" y="405.7"/>
<use href="#m" x="1144.7" y="378"/>
<use href="#m" x="1155.5" y="397.4"/>
<use href="#m" x="1128.4" y="414.1"/>
<use href="#m" x="1143.3" y="376"/>
<use href="#m" x="1131.3" y="375.9"/>
<use href="#m" x="1161" y="405.4"/>
<use href="#m" x="1124.4" y="404.6"/>
<use href="#m" x="1136.5" y="382.5"/>
<use href="#m" x="1153.5" y="394.9"/>
<use href="#m" x="1135" y="402.7"/>
<use href="#m" x="1155.3" y="405.8"/>
<use href="#m" x="1153.5" y="408.4"/>
<use href="#m" x="1153.9" y="404"/>
<use href="#m" x="1134.9" y="393.4"/>
<use href="#m" x="1161.4" y="400.2"/>
<use href="#m" x="1152.4" y="393.1"/>
<use href="#m" x="1142.1" y="387.5"/>
<use href="#m" x="1152.9" y="399.6"/>
<use href="#m" x="1132.7" y="407.7"/>
<use href="#m" x="1142.8" y="373.9"/>
<use href="#m" x="1157.5" y="394.8"/>
<use href="#m" x="1162" y="389.2"/>
<use href="#m" x="1154.2" y="402.6"/>
<use href="#m" x="1152.3" y="390.5"/>
<use href="#m" x="1143.7" y="387.7"/>
<use href="#m" x="1135.3" y="368.2"/>
<use href="#m" x="1148.1" y="389.9"/>
<use href="#m" x="1163.4" y="394.7"/>
<use href="#m" x="1139" y="390.9"/>
<use href="#m" x="1128.5" y="371.8"/>
<use href="#m" x="1126.6" y="410.7"/>
<use href="#m" x="1155.2" y="390.3"/>
<use href="#m" x="1134.5" y="391.8"/>
<use href="#m" x="1125.4" y="367.5"/>
<use href="#m" x="1130.7" y="401.1"/>
<use href="#m" x="1133.2" y="396.5"/>
<use href="#m" x="1129.7" y="395.5"/>
<use href="#m" x="1150.6" y="400.4"/>
<use href="#m" x="1130.1" y="386.7"/>
<use href="#m" x="1133.4" y="377.9"/>
<use href="#m" x="1136.6" y="401.1"/>
<use href="#m" x="1130.6" y="383"/>
<use href="#m" x="1155.1" y="389.5"/>
<use href="#m" x="1154.9" y="407.4"/>
<use href="#m" x="1148.4" y="405"/>
<use href="#m" x="1141.7" y="395.9"/>
<use href="#m" x="1163.8" y="399.8"/>
<use href="#m" x="1141.6" y="402"/>
<use href="#m" x="1151.5" y="398.8"/>
<use href="#m" x="1139.2" y="393"/>
<use href="#m" x="1162.9" y="399.5"/>
<use href="#m" x="1142" y="386.7"/>
<use href="#m" x="1124.7" y="411.7"/>
<use href="#m" x="1152.7" y="401.8"/>
<use href="#m" x="1151.6" y="405"/>
<use href="#m" x="1140.8" y="388.1"/>
<use href="#m" x="1132.9" y="388.5"/>
<use href="#m" x="1149.7" y="397.3"/>
<use href="#m" x="1131" y="377.2"/>
<use href="#m" x="1124.6" y="388.3"/>
<use href="#m" x="1123" y="363.9"/>
<use href="#m" x="1123" y="421.4"/>
<use href="#m" x="1125" y="364.5"/>
<use href="#m" x="1125" y="421.7"/>
<use href="#m" x="1127" y="363.9"/>
<use href="#m" x="1127" y="417.5"/>
<use href="#m" x="1129" y="364.1"/>
<use href="#m" x="1129" y="414"/>
<use href="#m" x="1131" y="363.2"/>
<use href="#m" x="1131" y="411.1"/>
<use href="#m" x="1133" y="364.4"/>
<use href="#m" x="1133" y="407.8"/>
<use href="#m" x="1135" y="363.7"/>
<use href="#m" x="1135" y="405.7"/>
<use href="#m" x="1137" y="366.1"/>
<use href="#m" x="1137" y="403.6"/>
<use href="#m" x="1139" y="365.4"/>
<use href="#m" x="1139" y="404.6"/>
<use href="#m" x="1141" y="367.5"/>
<use href="#m" x="1141" y="403.6"/>
<use href="#m" x="1143" y="370"/>
<use href="#m" x="1143" y="404.2"/>
<use href="#m" x="1145" y="371.4"/>
<use href="#m" x="1145" y="404"/>
<use href="#m" x="1147" y="377.7"/>
<use href="#m" x="1147" y="406.7"/>
<use href="#m" x="1149" y="383.6"/>
<use href="#m" x="1149" y="407.3"/>
<use href="#m" x="1151" y="388.5"/>
<use href="#m" x="1151" y="408.4"/>
<use href="#m" x="1153" y="390.7"/>
<use href="#m" x="1153" y="408.1"/>
<use href="#m" x="1155" y="387.3"/>
<use href="#m" x="1155" y="410.2"/>
<use href="#m" x="1157" y="386.2"/>
<use href="#m" x="1157" y="409.9"/>
<use href="#m" x="1159" y="386.2"/>
<use href="#m" x="1159" y="409.1"/>
<use href="#m" x="1161" y="386.1"/>
<use href="#m" x="1161" y="408.2"/>
<use href="#m" x="1163" y="390.2"/>
<use href="#m" x="1163" y="410.5"/>
<use href="#m" x="1122.2" y="363.6"/>
<use href="#m" x="1123" y="365.6"/>
<use href="#m" x="1122.8" y="367.6"/>
<use href="#m" x="1123" y="369.6"/>
<use href="#m" x="1124" y="371.6"/>
<use href="#m" x="1124.2" y="373.6"/>
<use href="#m" x="1123.3" y="375.6"/>
<use href="#m" x="1122.9" y="377.6"/>
<use href="#m" x="1124.2" y="379.6"/>
<use href="#m" x="1122.8" y="381.6"/>
<use href="#m" x="1122.4" y="383.6"/>
<use href="#m" x="1122.9" y="385.6"/>
<use href="#m" x="1123.5" y="387.6"/>
<use href="#m" x="1122.2" y="389.6"/>
<use href="#m" x="1123.7" y="391.6"/>
<use href="#m" x="1122.6" y="393.6"/>
<use href="#m" x="1121.7" y="395.6"/>
<use href="#m" x="1123.6" y="397.6"/>
<use href="#m" x="1124.2" y="399.6"/>
<use href="#m" x="1124.2" y="401.6"/>
<use href="#m" x="1124.4" y="403.6"/>
<use href="#m" x="1121.6" y="405.6"/>
<use href="#m" x="1124.4" y="407.6"/>
<use href="#m" x="1124.2" y="409.6"/>
<use href="#m" x="1124.2" y="411.6"/>
<use href="#m" x="1121.5" y="413.6"/>
<use href="#m" x="1123.5" y="415.6"/>
<use href="#m" x="1122.1" y="417.6"/>
<use href="#m" x="1124.2" y="419.6"/>
<use href="#m" x="1122.3" y="421.6"/>
<use href="#m" x="1162.7" y="391"/>
<use href="#m" x="1164.3" y="393"/>
<use href="#m" x="1164.6" y="395"/>
<use href="#m" x="1164.1" y="397"/>
<use href="#m" x="1163.7" y="399"/>
<use href="#m" x="1162.7" y="401"/>
<use href="#m" x="1164.7" y="403"/>
<use href="#m" x="1162.5" y="405"/>
<use href="#m" x="1164.2" y="407"/>
<use href="#m" x="1162.8" y="409"/>
<use href="#m" x="1191.3" y="382.9"/>
<use href="#m" x="1178.8" y="372.6"/>
<use href="#m" x="1179.4" y="378.8"/>
<use href="#m" x="1187.6" y="380.7"/>
<use href="#m" x="1191.1" y="372.8"/>
<use href="#m" x="1169.6" y="356.4"/>
<use href="#m" x="1167.1" y="348.3"/>
<use href="#m" x="1188.4" y="366.1"/>
<use href="#m" x="1179.1" y="359.8"/>
<use href="#m" x="1216.9" y="408.4"/>
<use href="#m" x="1182.4" y="369.7"/>
<use href="#m" x="1201.8" y="400.7"/>
<use href="#m" x="1201.5" y="381.3"/>
<use href="#m" x="1172.6" y="367.5"/>
<use href="#m" x="1179.7" y="364.7"/>
<use href="#m" x="1167.2" y="353.3"/>
<use href="#m" x="1181.3" y="342"/>
<use href="#m" x="1164.9" y="337.5"/>
<use href="#m" x="1195" y="394.5"/>
<use href="#m" x="1165.8" y="349.2"/>
<use href="#m" x="1184.1" y="372.6"/>
<use href="#m" x="1206.1" y="384"/>
<use href="#m" x="1178.8" y="378.4"/>
<use href="#m" x="1203.8" y="385.4"/>
<use href="#m" x="1196.3" y="384.8"/>
<use href="#m" x="1173.3" y="348.7"/>
<use href="#m" x="1195.8" y="392.9"/>
<use href="#m" x="1217" y="389.7"/>
<use href="#m" x="1223.3" y="394.4"/>
<use href="#m" x="1202.9" y="391.7"/>
<use href="#m" x="1190.9" y="386.1"/>
<use href="#m" x="1208.5" y="384.5"/>
<use href="#m" x="1165.4" y="342.2"/>
<use href="#m" x="1183" y="363.8"/>
<use href="#m" x="1220.7" y="391"/>
<use href="#m" x="1177.6" y="354.9"/>
<use href="#m" x="1184" y="363.6"/>
<use href="#m" x="1195.5" y="375.5"/>
<use href="#m" x="1209.4" y="402.9"/>
<use href="#m" x="1209.2" y="396.7"/>
<use href="#m" x="1174.5" y="366.9"/>
<use href="#m" x="1216.3" y="411.9"/>
<use href="#m" x="1207.3" y="385.8"/>
<use href="#m" x="1181.6" y="373"/>
<use href="#m" x="1166.4" y="340"/>
<use href="#m" x="1187.2" y="384.7"/>
<use href="#m" x="1165.6" y="339.3"/>
<use href="#m" x="1202.2" y="379.9"/>
<use href="#m" x="1182.5" y="376.4"/>
<use href="#m" x="1191.9" y="389.6"/>
<use href="#m" x="1178.7" y="370.5"/>
<use href="#m" x="1173.4" y="360.1"/>
<use href="#m" x="1211.4" y="384.4"/>
<use href="#m" x="1180.9" y="355"/>
<use href="#m" x="1217" y="382.3"/>
<use href="#m" x="1188.7" y="394.8"/>
<use href="#m" x="1169.5" y="372.2"/>
<use href="#m" x="1168.4" y="352.4"/>
<use href="#m" x="1191" y="386"/>
<use href="#m" x="1181.1" y="362.1"/>
<use href="#m" x="1216" y="386.1"/>
<use href="#m" x="1217.7" y="383"/>
<use href="#m" x="1174.5" y="339.7"/>
<use href="#m" x="1196.3" y="383.1"/>
<use href="#m" x="1192.2" y="365.9"/>
<use href="#m" x="1182.1" y="341.8"/>
<use href="#m" x="1171.3" y="359.9"/>
<use href="#m" x="1197.4" y="389.9"/>
<use href="#m" x="1165.5" y="359.2"/>
<use href="#m" x="1169.9" y="360.7"/>
<use href="#m" x="1188.4" y="389.5"/>
<use href="#m" x="1169.8" y="344.4"/>
<use href="#m" x="1166.5" y="368"/>
<use href="#m" x="1200.9" y="389"/>
<use href="#m" x="1173.7" y="373.8"/>
<use href="#m" x="1185.3" y="353.3"/>
<use href="#m" x="1192.1" y="376.5"/>
<use href="#m" x="1213.1" y="383.6"/>
<use href="#m" x="1210" y="411.4"/>
<use href="#m" x="1167.6" y="357.9"/>
<use href="#m" x="1207.6" y="405.6"/>
<use href="#m" x="1216.1" y="396.8"/>
<use href="#m" x="1202.8" y="397.4"/>
<use href="#m" x="1190.5" y="364.5"/>
<use href="#m" x="1164" y="328.1"/>
<use href="#m" x="1164" y="366.3"/>
<use href="#m" x="1166" y="327.5"/>
<use href="#m" x="1166" y="370.7"/>
<use href="#m" x="1168" y="329.2"/>
<use href="#m" x="1168" y="372.5"/>
<use href="#m" x="1170" y="327.6"/>
<use href="#m" x="1170" y="374.9"/>
<use href="#m" x="1172" y="328.7"/>
<use href="#m" x="1172" y="376.7"/>
<use href="#m" x="1174" y="329"/>
<use href="#m" x="1174" y="380.3"/>
<use href="#m" x="1176" y="330.5"/>
<use href="#m" x="1176" y="382.3"/>
<use href="#m" x="1178" y="332.5"/>
<use href="#m" x="1178" y="384.4"/>
<use href="#m" x="1180" y="338.7"/>
<use href="#m" x="1180" y="386.5"/>
<use href="#m" x="1182" y="342.4"/>
<use href="#m" x="1182" y="386.9"/>
<use href="#m" x="1184" y="345.1"/>
<use href="#m" x="1184" y="390.7"/>
<use href="#m" x="1186" y="350.4"/>
<use href="#m" x="1186" y="390.7"/>
<use href="#m" x="1188" y="352.6"/>
<use href="#m" x="1188" y="393.4"/>
<use href="#m" x="1190" y="357.6"/>
<use href="#m" x="1190" y="397"/>
<use href="#m" x="1192" y="363"/>
<use href="#m" x="1192" y="400.2"/>
<use href="#m" x="1194" y="368.7"/>
<use href="#m" x="1194" y="401.9"/>
<use href="#m" x="1196" y="374.3"/>
<use href="#m" x="1196" y="404.7"/>
<use href="#m" x="1198" y="376.6"/>
<use href="#m" x="1198" y="405.8"/>
<use href="#m" x="1200" y="379.3"/>
<use href="#m" x="1200" y="408.2"/>
<use href="#m" x="1202" y="380.9"/>
<use href="#m" x="1202" y="408.1"/>
<use href="#m" x="1204" y="380.5"/>
<use href="#m" x="1204" y="411.7"/>
<use href="#m" x="1206" y="380.4"/>
<use href="#m" x="1206" y="410.6"/>
<use href="#m" x="1208" y="381.9"/>
<use href="#m" x="1208" y="412.5"/>
<use href="#m" x="1210" y="381.6"/>
<use href="#m" x="1210" y="414.7"/>
<use href="#m" x="1212" y="382.5"/>
<use href="#m" x="1212" y="415.7"/>
<use href="#m" x="1214" y="382.3"/>
<use href="#m" x="1214" y="414.8"/>
<use href="#m" x="1216" y="379.7"/>
<use href="#m" x="1216" y="416.9"/>
<use href="#m" x="1218" y="378.1"/>
<use href="#m" x="1218" y="416.2"/>
<use href="#m" x="1220" y="378.7"/>
<use href="#m" x="1220" y="416.5"/>
<use href="#m" x="1222" y="380.3"/>
<use href="#m" x="1222" y="416.2"/>
<use href="#m" x="1224" y="382.5"/>
<use href="#m" x="1224" y="415.9"/>
<use href="#m" x="1164.4" y="328"/>
<use href="#m" x="1164.8" y="330"/>
<use href="#m" x="1163.1" y="332"/>
<use href="#m" x="1164.5" y="334"/>
<use href="#m" x="1164.5" y="336"/>
<use href="#m" x="1163.7" y="338"/>
<use href="#m" x="1164.2" y="340"/>
<use href="#m" x="1164.1" y="342"/>
<use href="#m" x="1165" y="344"/>
<use href="#m" x="1165.5" y="346"/>
<use href="#m" x="1165" y="348"/>
<use href="#m" x="1164" y="350"/>
<use href="#m" x="1162.8" y="352"/>
<use href="#m" x="1164.4" y="354"/>
<use href="#m" x="1165.4" y="356"/>
<use href="#m" x="1163.1" y="358"/>
<use href="#m" x="1162.9" y="360"/>
<use href="#m" x="1163.1" y="362"/>
<use href="#m" x="1162.8" y="364"/>
<use href="#m" x="1164" y="366"/>
<use href="#m" x="1223.1" y="383.1"/>
<use href="#m" x="1225.2" y="385.1"/>
<use href="#m" x="1225.2" y="387.1"/>
<use href="#m" x="1225.1" y="389.1"/>
<use href="#m" x="1224.1" y="391.1"/>
<use href="#m" x="1223.8" y="393.1"/>
<use href="#m" x="1224.5" y="395.1"/>
<use href="#m" x="1223.7" y="397.1"/>
<use href="#m" x="1224.2" y="399.1"/>
<use href="#m" x="1222.7" y="401.1"/>
<use href="#m" x="1224.1" y="403.1"/>
<use href="#m" x="1224.2" y="405.1"/>
<use href="#m" x="1223.2" y="407.1"/>
<use href="#m" x="1223" y="409.1"/>
<use href="#m" x="1223.8" y="411.1"/>
<use href="#m" x="1225.2" y="413.1"/>
<use href="#m" x="1199.5" y="346.7"/>
<use href="#m" x="1207.5" y="364.4"/>
<use href="#m" x="1215.6" y="353.1"/>
<use href="#m" x="1226.8" y="353.1"/>
<use href="#m" x="1226.8" y="364.4"/>
<use href="#m" x="1222" y="357.9"/>
<use href="#m" x="1274.6" y="342.3"/>
<use href="#m" x="1239.4" y="304.3"/>
<use href="#m" x="1271.1" y="320.3"/>
<use href="#m" x="1253.7" y="336.7"/>
<use href="#m" x="1236.9" y="334.4"/>
<use href="#m" x="1235.3" y="337.2"/>
<use href="#m" x="1259.4" y="329.2"/>
<use href="#m" x="1252.6" y="341.9"/>
<use href="#m" x="1267.4" y="309"/>
<use href="#m" x="1238.9" y="287.7"/>
<use href="#m" x="1244.4" y="325"/>
<use href="#m" x="1242.6" y="317.2"/>
<use href="#m" x="1230.7" y="296.4"/>
<use href="#m" x="1239.6" y="300.5"/>
<use href="#m" x="1259.8" y="340.7"/>
<use href="#m" x="1238.4" y="330.2"/>
<use href="#m" x="1240.6" y="330.5"/>
<use href="#m" x="1259.2" y="327.9"/>
<use href="#m" x="1262.7" y="342.1"/>
<use href="#m" x="1233.7" y="332"/>
<use href="#m" x="1240.1" y="290.7"/>
<use href="#m" x="1274.6" y="355.7"/>
<use href="#m" x="1257.2" y="308.2"/>
<use href="#m" x="1222.6" y="324.5"/>
<use href="#m" x="1258.6" y="343.1"/>
<use href="#m" x="1272.9" y="337.8"/>
<use href="#m" x="1265.1" y="323.4"/>
<use href="#m" x="1243.5" y="320.2"/>
<use href="#m" x="1238.3" y="320.8"/>
<use href="#m" x="1268.8" y="328.2"/>
<use href="#m" x="1269.2" y="343.1"/>
<use href="#m" x="1235.8" y="290.1"/>
<use href="#m" x="1238.7" y="317.9"/>
<use href="#m" x="1252.8" y="318.6"/>
<use href="#m" x="1258.3" y="319.4"/>
<use href="#m" x="1242.3" y="293.8"/>
<use href="#m" x="1259.6" y="316.6"/>
<use href="#m" x="1232.8" y="331.6"/>
<use href="#m" x="1239.7" y="329"/>
<use href="#m" x="1225.1" y="311"/>
<use href="#m" x="1256.2" y="336.5"/>
<use href="#m" x="1246.6" y="297.9"/>
<use href="#m" x="1250.8" y="340.6"/>
<use href="#m" x="1237.6" y="307.9"/>
<use href="#m" x="1257.2" y="321.4"/>
<use href="#m" x="1256.4" y="324.7"/>
<use href="#m" x="1230.7" y="310.2"/>
<use href="#m" x="1225.3" y="290"/>
<use href="#m" x="1244.8" y="306.2"/>
<use href="#m" x="1264.5" y="308.8"/>
<use href="#m" x="1240.4" y="318.6"/>
<use href="#m" x="1252.2" y="333.3"/>
<use href="#m" x="1252.6" y="344.1"/>
<use href="#m" x="1233.9" y="312"/>
<use href="#m" x="1226" y="324.1"/>
<use href="#m" x="1251.1" y="343"/>
<use href="#m" x="1228.1" y="313"/>
<use href="#m" x="1236.2" y="308.2"/>
<use href="#m" x="1271.2" y="318.6"/>
<use href="#m" x="1229" y="306.3"/>
<use href="#m" x="1236.4" y="326.2"/>
<use href="#m" x="1259.8" y="317.3"/>
<use href="#m" x="1266.5" y="317.7"/>
<use href="#m" x="1225.4" y="294.5"/>
<use href="#m" x="1252.6" y="338.1"/>
<use href="#m" x="1260" y="312.7"/>
<use href="#m" x="1242.8" y="330.5"/>
<use href="#m" x="1255.6" y="338.8"/>
<use href="#m" x="1230.1" y="326.5"/>
<use href="#m" x="1231.1" y="287.6"/>
<use href="#m" x="1247.4" y="324.2"/>
<use href="#m" x="1255.6" y="327.9"/>
<use href="#m" x="1231.7" y="314.8"/>
<use href="#m" x="1247.1" y="290.2"/>
<use href="#m" x="1235.9" y="306.3"/>
<use href="#m" x="1260.8" y="349.8"/>
<use href="#m" x="1273.8" y="335.3"/>
<use href="#m" x="1240.7" y="331.9"/>
<use href="#m" x="1264.4" y="350.5"/>
<use href="#m" x="1235.5" y="337.6"/>
<use href="#m" x="1253.4" y="334.1"/>
<use href="#m" x="1234.4" y="333.4"/>
<use href="#m" x="1229.7" y="320.8"/>
<use href="#m" x="1271.1" y="345.5"/>
<use href="#m" x="1233.3" y="336.1"/>
<use href="#m" x="1222" y="287"/>
<use href="#m" x="1222" y="336.7"/>
<use href="#m" x="1224" y="286.9"/>
<use href="#m" x="1224" y="336.8"/>
<use href="#m" x="1226" y="285.2"/>
<use href="#m" x="1226" y="335"/>
<use href="#m" x="1228" y="285.2"/>
<use href="#m" x="1228" y="336.1"/>
<use href="#m" x="1230" y="285"/>
<use href="#m" x="1230" y="337.7"/>
<use href="#m" x="1232" y="287"/>
<use href="#m" x="1232" y="336.4"/>
<use href="#m" x="1234" y="285.5"/>
<use href="#m" x="1234" y="336.2"/>
<use href="#m" x="1236" y="285.8"/>
<use href="#m" x="1236" y="337.2"/>
<use href="#m" x="1238" y="286.5"/>
<use href="#m" x="1238" y="339"/>
<use href="#m" x="1240" y="286.2"/>
<use href="#m" x="1240" y="339.2"/>
<use href="#m" x="1242" y="288.9"/>
<use href="#m" x="1242" y="338.8"/>
<use href="#m" x="1244" y="288.8"/>
<use href="#m" x="1244" y="339.4"/>
<use href="#m" x="1246" y="290"/>
<use href="#m" x="1246" y="340.7"/>
<use href="#m" x="1248" y="298.3"/>
<use href="#m" x="1248" y="342.9"/>
<use href="#m" x="1250" y="318"/>
<use href="#m" x="1250" y="342.6"/>
<use href="#m" x="1252" y="313.8"/>
<use href="#m" x="1252" y="343.6"/>
<use href="#m" x="1254" y="310.9"/>
<use href="#m" x="1254" y="345.1"/>
<use href="#m" x="1256" y="309.4"/>
<use href="#m" x="1256" y="349.4"/>
<use href="#m" x="1258" y="306"/>
<use href="#m" x="1258" y="349.9"/>
<use href="#m" x="1260" y="305"/>
<use href="#m" x="1260" y="350.1"/>
<use href="#m" x="1262" y="304.8"/>
<use href="#m" x="1262" y="350.8"/>
<use href="#m" x="1264" y="305.7"/>
<use href="#m" x="1264" y="352.2"/>
<use href="#m" x="1266" y="305.8"/>
<use href="#m" x="1266" y="353"/>
<use href="#m" x="1268" y="307.1"/>
<use href="#m" x="1268" y="352.6"/>
<use href="#m" x="1270" y="307.8"/>
<use href="#m" x="1270" y="355.6"/>
<use href="#m" x="1272" y="308.7"/>
<use href="#m" x="1272" y="355.3"/>
<use href="#m" x="1274" y="307.6"/>
<use href="#m" x="1274" y="356.5"/>
<use href="#m" x="1221.2" y="286"/>
<use href="#m" x="1223" y="288"/>
<use href="#m" x="1221.3" y="290"/>
<use href="#m" x="1221.1" y="292"/>
<use href="#m" x="1222.8" y="294"/>
<use href="#m" x="1221.1" y="296"/>
<use href="#m" x="1221.3" y="298"/>
<use href="#m" x="1222.6" y="300"/>
<use href="#m" x="1221.6" y="302"/>
<use href="#m" x="1221.7" y="304"/>
<use href="#m" x="1223.2" y="306"/>
<use href="#m" x="1223.1" y="308"/>
<use href="#m" x="1223.5" y="310"/>
<use href="#m" x="1222.2" y="312"/>
<use href="#m" x="1221.6" y="314"/>
<use href="#m" x="1222.3" y="316"/>
<use href="#m" x="1221.7" y="318"/>
<use href="#m" x="1223.4" y="320"/>
<use href="#m" x="1221.3" y="322"/>
<use href="#m" x="1223" y="324"/>
<use href="#m" x="1222.9" y="326"/>
<use href="#m" x="1221.3" y="328"/>
<use href="#m" x="1222.8" y="330"/>
<use href="#m" x="1222.6" y="332"/>
<use href="#m" x="1222.9" y="334"/>
<use href="#m" x="1275" y="308.6"/>
<use href="#m" x="1273.9" y="310.6"/>
<use href="#m" x="1274.9" y="312.6"/>
<use href="#m" x="1276.4" y="314.6"/>
<use href="#m" x="1276.2" y="316.6"/>
<use href="#m" x="1274.5" y="318.6"/>
<use href="#m" x="1275.4" y="320.6"/>
<use href="#m" x="1273.6" y="322.6"/>
<use href="#m" x="1275.7" y="324.6"/>
<use href="#m" x="1275.2" y="326.6"/>
<use href="#m" x="1274.7" y="328.6"/>
<use href="#m" x="1274.3" y="330.6"/>
<use href="#m" x="1273.7" y="332.6"/>
<use href="#m" x="1274.2" y="334.6"/>
<use href="#m" x="1274.8" y="336.6"/>
<use href="#m" x="1274.8" y="338.6"/>
<use href="#m" x="1274" y="340.6"/>
<use href="#m" x="1275.6" y="342.6"/>
<use href="#m" x="1273.5" y="344.6"/>
<use href="#m" x="1274" y="346.6"/>
<use href="#m" x="1274.4" y="348.6"/>
<use href="#m" x="1274" y="350.6"/>
<use href="#m" x="1275.9" y="352.6"/>
<use href="#m" x="1276.4" y="354.6"/>
<use href="#m" x="1302.2" y="365.1"/>
<use href="#m" x="1324.6" y="390.1"/>
<use href="#m" x="1313" y="383.6"/>
<use href="#m" x="1278.4" y="344.2"/>
<use href="#m" x="1290.1" y="363.1"/>
<use href="#m" x="1277.9" y="349.3"/>
<use href="#m" x="1329" y="383.3"/>
<use href="#m" x="1327.1" y="388.3"/>
<use href="#m" x="1328" y="388.4"/>
<use href="#m" x="1332.8" y="389.6"/>
<use href="#m" x="1285.6" y="352.2"/>
<use href="#m" x="1332.5" y="388.6"/>
<use href="#m" x="1315.2" y="376.1"/>
<use href="#m" x="1296.3" y="364"/>
<use href="#m" x="1320.2" y="383.4"/>
<use href="#m" x="1329.8" y="392.3"/>
<use href="#m" x="1276.1" y="342.4"/>
<use href="#m" x="1276.1" y="335"/>
<use href="#m" x="1306.1" y="369.8"/>
<use href="#m" x="1315.2" y="378.1"/>
<use href="#m" x="1322.6" y="385.9"/>
<use href="#m" x="1309.6" y="376"/>
<use href="#m" x="1304.1" y="369.8"/>
<use href="#m" x="1274.4" y="331.4"/>
<use href="#m" x="1292.7" y="353.9"/>
<use href="#m" x="1285.5" y="353.2"/>
<use href="#m" x="1300.5" y="360.8"/>
<use href="#m" x="1313.3" y="373"/>
<use href="#m" x="1292" y="352.5"/>
<use href="#m" x="1314.7" y="379"/>
<use href="#m" x="1274.8" y="342.9"/>
<use href="#m" x="1284.8" y="344.6"/>
<use href="#m" x="1280.2" y="346"/>
<use href="#m" x="1307.4" y="368.6"/>
<use href="#m" x="1333.7" y="391.4"/>
<use href="#m" x="1282" y="351.5"/>
<use href="#m" x="1304.8" y="369.4"/>
<use href="#m" x="1310.3" y="374.6"/>
<use href="#m" x="1300" y="358.4"/>
<use href="#m" x="1321.9" y="385.4"/>
<use href="#m" x="1316.8" y="374.7"/>
<use href="#m" x="1302.4" y="365.3"/>
<use href="#m" x="1305.6" y="373.6"/>
<use href="#m" x="1289.4" y="358.3"/>
<use href="#m" x="1315.7" y="373.8"/>
<use href="#m" x="1325.5" y="388.9"/>
<use href="#m" x="1290.1" y="361.9"/>
<use href="#m" x="1274" y="326.2"/>
<use href="#m" x="1274" y="348.3"/>
<use href="#m" x="1275.5" y="331.1"/>
<use href="#m" x="1275.5" y="350.2"/>
<use href="#m" x="1277" y="333"/>
<use href="#m" x="1277" y="350.6"/>
<use href="#m" x="1278.5" y="334.6"/>
<use href="#m" x="1278.5" y="350.2"/>
<use href="#m" x="1280" y="335.9"/>
<use href="#m" x="1280" y="352.2"/>
<use href="#m" x="1281.5" y="336.8"/>
<use href="#m" x="1281.5" y="356.7"/>
<use href="#m" x="1283" y="337.9"/>
<use href="#m" x="1283" y="357.5"/>
<use href="#m" x="1284.5" y="340.4"/>
<use href="#m" x="1284.5" y="358.9"/>
<use href="#m" x="1286" y="339.6"/>
<use href="#m" x="1286" y="359.1"/>
<use href="#m" x="1287.5" y="344.1"/>
<use href="#m" x="1287.5" y="361.7"/>
<use href="#m" x="1289" y="347.1"/>
<use href="#m" x="1289" y="361.2"/>
<use href="#m" x="1290.5" y="347.4"/>
<use href="#m" x="1290.5" y="364.6"/>
<use href="#m" x="1292" y="348.8"/>
<use href="#m" x="1292" y="367.4"/>
<use href="#m" x="1293.5" y="351.1"/>
<use href="#m" x="1293.5" y="365.7"/>
<use href="#m" x="1295" y="353.6"/>
<use href="#m" x="1295" y="370"/>
<use href="#m" x="1296.5" y="355.2"/>
<use href="#m" x="1296.5" y="370.3"/>
<use href="#m" x="1298" y="355.7"/>
<use href="#m" x="1298" y="373"/>
<use href="#m" x="1299.5" y="358.1"/>
<use href="#m" x="1299.5" y="373.7"/>
<use href="#m" x="1301" y="360"/>
<use href="#m" x="1301" y="372.6"/>
<use href="#m" x="1302.5" y="361"/>
<use href="#m" x="1302.5" y="376.9"/>
<use href="#m" x="1304" y="362.5"/>
<use href="#m" x="1304" y="378.6"/>
<use href="#m" x="1305.5" y="362.6"/>
<use href="#m" x="1305.5" y="379.2"/>
<use href="#m" x="1307" y="365.5"/>
<use href="#m" x="1307" y="380.4"/>
<use href="#m" x="1308.5" y="366"/>
<use href="#m" x="1308.5" y="380.7"/>
<use href="#m" x="1310" y="369"/>
<use href="#m" x="1310" y="380.9"/>
<use href="#m" x="1311.5" y="368.1"/>
<use href="#m" x="1311.5" y="382"/>
<use href="#m" x="1313" y="371.6"/>
<use href="#m" x="1313" y="386"/>
<use href="#m" x="1314.5" y="371.1"/>
<use href="#m" x="1314.5" y="385.6"/>
<use href="#m" x="1316" y="374.2"/>
<use href="#m" x="1316" y="387.8"/>
<use href="#m" x="1317.5" y="374.2"/>
<use href="#m" x="1317.5" y="390.4"/>
<use href="#m" x="1319" y="375.8"/>
<use href="#m" x="1319" y="388.1"/>
<use href="#m" x="1320.5" y="376.2"/>
<use href="#m" x="1320.5" y="390.1"/>
<use href="#m" x="1322" y="376.4"/>
<use href="#m" x="1322" y="392.3"/>
<use href="#m" x="1323.5" y="379"/>
<use href="#m" x="1323.5" y="393.6"/>
<use href="#m" x="1325" y="381.4"/>
<use href="#m" x="1325" y="392.7"/>
<use href="#m" x="1326.5" y="380"/>
<use href="#m" x="1326.5" y="395.4"/>
<use href="#m" x="1328" y="382.8"/>
<use href="#m" x="1328" y="396.6"/>
<use href="#m" x="1329.5" y="381.1"/>
<use href="#m" x="1329.5" y="398.1"/>
<use href="#m" x="1331" y="382.9"/>
<use href="#m" x="1331" y="396.2"/>
<use href="#m" x="1332.5" y="386.8"/>
<use href="#m" x="1332.5" y="397.4"/>
<use href="#m" x="1334" y="387.8"/>
<use href="#m" x="1334" y="398.9"/>
<use href="#m" x="1347.3" y="401"/>
<use href="#m" x="1353" y="399.4"/>
<use href="#m" x="1345.4" y="392.7"/>
<use href="#m" x="1349.8" y="377.3"/>
<use href="#m" x="1349.7" y="396.7"/>
<use href="#m" x="1350.1" y="401.3"/>
<use href="#m" x="1355.3" y="386.5"/>
<use href="#m" x="1346.3" y="372.4"/>
<use href="#m" x="1350.9" y="396.9"/>
<use href="#m" x="1356" y="389.4"/>
<use href="#m" x="1345" y="401"/>
<use href="#m" x="1351.5" y="371.9"/>
<use href="#m" x="1352.7" y="399"/>
<use href="#m" x="1348" y="388.5"/>
<use href="#m" x="1351.9" y="388.4"/>
<use href="#m" x="1348.7" y="387.5"/>
<use href="#m" x="1355.1" y="385"/>
<use href="#m" x="1346.9" y="388.5"/>
<use href="#m" x="1353.2" y="370.4"/>
<use href="#m" x="1354.5" y="383"/>
<use href="#m" x="1347.4" y="375.6"/>
<use href="#m" x="1345.9" y="398.8"/>
<use href="#m" x="1354" y="381.2"/>
<use href="#m" x="1355.8" y="375.1"/>
<use href="#m" x="1345" y="398.1"/>
<use href="#m" x="1353.4" y="373.9"/>
<use href="#m" x="1345" y="367.2"/>
<use href="#m" x="1345" y="403.1"/>
<use href="#m" x="1347" y="367.6"/>
<use href="#m" x="1347" y="404.3"/>
<use href="#m" x="1349" y="367.6"/>
<use href="#m" x="1349" y="405.1"/>
<use href="#m" x="1351" y="368.3"/>
<use href="#m" x="1351" y="402.5"/>
<use href="#m" x="1353" y="367.6"/>
<use href="#m" x="1353" y="399.7"/>
<use href="#m" x="1355" y="368.7"/>
<use href="#m" x="1355" y="398.3"/>
<use href="#m" x="1345.6" y="367.8"/>
<use href="#m" x="1344.4" y="369.8"/>
<use href="#m" x="1344.6" y="371.8"/>
<use href="#m" x="1345.5" y="373.8"/>
<use href="#m" x="1344" y="375.8"/>
<use href="#m" x="1344.2" y="377.8"/>
<use href="#m" x="1345.2" y="379.8"/>
<use href="#m" x="1345.5" y="381.8"/>
<use href="#m" x="1343.9" y="383.8"/>
<use href="#m" x="1344.7" y="385.8"/>
<use href="#m" x="1344.9" y="387.8"/>
<use href="#m" x="1344.7" y="389.8"/>
<use href="#m" x="1343.7" y="391.8"/>
<use href="#m" x="1345.6" y="393.8"/>
<use href="#m" x="1345.6" y="395.8"/>
<use href="#m" x="1344.2" y="397.8"/>
<use href="#m" x="1345.1" y="399.8"/>
<use href="#m" x="1346" y="401.8"/>
<use href="#m" x="1345.7" y="403.8"/>
<use href="#m" x="1354.5" y="368.7"/>
<use href="#m" x="1355.5" y="370.7"/>
<use href="#m" x="1355.2" y="372.7"/>
<use href="#m" x="1357.1" y="374.7"/>
<use href="#m" x="1356.6" y="376.7"/>
<use href="#m" x="1356.7" y="378.7"/>
<use href="#m" x="1354.5" y="380.7"/>
<use href="#m" x="1356.7" y="382.7"/>
<use href="#m" x="1354.9" y="384.7"/>
<use href="#m" x="1355.1" y="386.7"/>
<use href="#m" x="1355.9" y="388.7"/>
<use href="#m" x="1356.3" y="390.7"/>
<use href="#m" x="1355.3" y="392.7"/>
<use href="#m" x="1357.1" y="394.7"/>
<use href="#m" x="1356.7" y="396.7"/>
<use href="#m" x="1361.9" y="179.5"/>
<use href="#m" x="1362" y="190"/>
<use href="#m" x="1362" y="229"/>
<use href="#m" x="1362" y="234"/>
<use href="#m" x="1363.4" y="202.2"/>
<use href="#m" x="1361.9" y="207.1"/>
<use href="#m" x="1361.7" y="201.2"/>
<use href="#m" x="1363.2" y="201.7"/>
<use href="#m" x="1360.7" y="199.4"/>
<use href="#m" x="1362.9" y="218.1"/>
<use href="#m" x="1361.5" y="203.2"/>
<use href="#m" x="1361.3" y="208.5"/>
<use href="#m" x="1362.3" y="204.9"/>
<use href="#m" x="1362.7" y="215.2"/>
<use href="#m" x="1363.3" y="219.7"/>
<use href="#m" x="1362.7" y="219.7"/>
<use href="#m" x="1362.8" y="207.5"/>
<use href="#m" x="1360.6" y="203.7"/>
<use href="#m" x="1363.3" y="213.5"/>
<use href="#m" x="1363" y="200.3"/>
<use href="#m" x="1362.9" y="205.2"/>
<use href="#m" x="1361.4" y="208.6"/>
<use href="#m" x="1363" y="214.6"/>
<use href="#m" x="1363.5" y="199.1"/>
<use href="#m" x="1361.8" y="212.6"/>
<use href="#m" x="1361.8" y="207.6"/>
<use href="#m" x="1363.2" y="210.2"/>
<use href="#m" x="1361" y="207.5"/>
<use href="#m" x="1361.7" y="205.3"/>
<use href="#m" x="1360.8" y="217.4"/>
<use href="#m" x="1362.6" y="220.4"/>
<use href="#m" x="1362.6" y="210"/>
<use href="#m" x="1363.3" y="212.5"/>
<use href="#m" x="1363.2" y="218.5"/>
<use href="#m" x="1362" y="203.7"/>
<use href="#m" x="1361.5" y="218.4"/>
<use href="#m" x="1361.8" y="207.7"/>
<use href="#m" x="1361.2" y="216"/>
<use href="#m" x="1360.5" y="218.1"/>
<use href="#m" x="1361" y="203.7"/>
<use href="#m" x="1361.3" y="208.4"/>
<use href="#m" x="1362.2" y="215.5"/>
<use href="#m" x="1361.9" y="213.8"/>
<use href="#m" x="1360.6" y="212.5"/>
<use href="#m" x="1351" y="246"/>
<use href="#m" x="1353" y="249"/>
<use href="#m" x="1356" y="252"/>
<use href="#m" x="1350" y="256"/>
<use href="#m" x="1354" y="258"/>
<use href="#m" x="1357" y="262"/>
<use href="#m" x="1349" y="263"/>
<use href="#m" x="1352" y="266"/>
<use href="#m" x="1355" y="244"/>
<use href="#m" x="1358" y="256"/>
<use href="#m" x="1350" y="250"/>
<use href="#m" x="1353" y="260"/>
<use href="#m" x="1352" y="250"/>
<use href="#m" x="1354" y="254"/>
<use href="#m" x="1351" y="259"/>
<use href="#m" x="1355" y="248"/>
<use href="#m" x="1351.4" y="282"/>
<use href="#m" x="1351.6" y="282.5"/>
<use href="#m" x="1351.2" y="281.5"/>
<use href="#m" x="1351.5" y="282.2"/>
</g>
<path clip-path="url(#cr)" d="M858,438L862,437L864,400.5L866.6,399.7L870.9,403.1L874.3,407.4L880.3,413.4L884.7,421.2L889.8,425.5L895,431.6L900.2,432.4L905.3,436.7L910.5,440.2L917.4,445.3L924.3,449.7L927.8,453.1L930.3,445.3L934.7,446.2L938.1,450.5L942.4,443.6L946.7,447.1L951.9,452.2L960.5,459.1L969.1,463.4L977.8,467.8L982.9,472.9L989.8,479L995,485.9L1002.8,494.5L1007.1,472.9L1011.4,476.4L1015.7,485L1020,489L1027.8,494.7L1035.6,502.5L1043.5,512.3L1053.2,524L1059.1,535.8L1066.9,545.5L1074.7,555.3L1080.6,565.1L1090.4,574.8L1098.2,580.7L1106,592.4L1113.4,598L1116.7,569L1119.5,570L1123.6,575.8L1124.6,526L1128.5,522.1L1137.3,529.9L1145.1,535.8L1150.5,540.6L1152.9,527.9L1158.8,522.1L1161.7,510.4L1165.6,504.5L1167.5,492.8L1174.4,496.7L1184.2,502.5L1190,509.4L1194,500.5L1199.7,503.7L1206.1,506.9L1209.3,513.3L1214.1,519.8L1222.2,527.8L1224.6,489.2L1227,486L1228.6,471.5L1236.7,474.7L1245.5,477.1L1249.5,474.7L1259.2,477.9L1260.8,468.3L1263.2,466.7L1266.4,469.1L1268.9,449L1271.3,448.2L1275.3,452.2L1283.3,457.8L1286.6,462.6L1293,466.7L1297.8,472.3L1304.3,477.1L1309.1,482.8L1315.5,488.4L1318.7,498.9L1322.8,497.2L1328.4,503.7L1336.4,509.3L1339.7,513.3L1343.7,522.2L1347.7,517.4L1352.5,522.2L1355,465.9L1359,467.5L1363.8,473.9L1370.2,479.5L1375.1,489.2L1379.9,492.4L1384.7,500.5L1389.5,504.5L1394.4,510.1" fill="none" stroke="#000" stroke-opacity="0.5" stroke-width="6.6" stroke-linejoin="round" stroke-linecap="butt"/>
<path d="M144.9,756v-10M144.9,155v10M253.6,756v-10M253.6,155v10M362.4,756v-10M362.4,155v10M471.1,756v-10M471.1,155v10M579.9,756v-10M579.9,155v10M688.6,756v-10M688.6,155v10M172.1,756v-5M172.1,155v5M199.3,756v-5M199.3,155v5M226.5,756v-5M226.5,155v5M280.8,756v-5M280.8,155v5M308,756v-5M308,155v5M335.2,756v-5M335.2,155v5M389.6,756v-5M389.6,155v5M416.8,756v-5M416.8,155v5M443.9,756v-5M443.9,155v5M498.3,756v-5M498.3,155v5M525.5,756v-5M525.5,155v5M552.7,756v-5M552.7,155v5M607,756v-5M607,155v5M634.2,756v-5M634.2,155v5M661.4,756v-5M661.4,155v5M120,727.1h10M705.7,727.1h-10M120,600.6h10M705.7,600.6h-10M120,474.1h10M705.7,474.1h-10M120,347.6h10M705.7,347.6h-10M120,221.1h10M705.7,221.1h-10M120,752.4h5M705.7,752.4h-5M120,701.8h5M705.7,701.8h-5M120,676.5h5M705.7,676.5h-5M120,651.2h5M705.7,651.2h-5M120,625.9h5M705.7,625.9h-5M120,575.3h5M705.7,575.3h-5M120,550h5M705.7,550h-5M120,524.7h5M705.7,524.7h-5M120,499.4h5M705.7,499.4h-5M120,448.8h5M705.7,448.8h-5M120,423.5h5M705.7,423.5h-5M120,398.2h5M705.7,398.2h-5M120,372.9h5M705.7,372.9h-5M120,322.3h5M705.7,322.3h-5M120,297h5M705.7,297h-5M120,271.7h5M705.7,271.7h-5M120,246.4h5M705.7,246.4h-5M120,195.8h5M705.7,195.8h-5M120,170.5h5M705.7,170.5h-5" stroke="#000" stroke-width="1.5" fill="none"/>
<rect x="120" y="155" width="585.7" height="601" fill="none" stroke="#000" stroke-width="1.6"/>
<path d="M859.8,756v-10M859.8,155v10M968.5,756v-10M968.5,155v10M1077.3,756v-10M1077.3,155v10M1186,756v-10M1186,155v10M1294.8,756v-10M1294.8,155v10M1403.5,756v-10M1403.5,155v10M887,756v-5M887,155v5M914.2,756v-5M914.2,155v5M941.4,756v-5M941.4,155v5M995.7,756v-5M995.7,155v5M1022.9,756v-5M1022.9,155v5M1050.1,756v-5M1050.1,155v5M1104.5,756v-5M1104.5,155v5M1131.7,756v-5M1131.7,155v5M1158.9,756v-5M1158.9,155v5M1213.2,756v-5M1213.2,155v5M1240.4,756v-5M1240.4,155v5M1267.6,756v-5M1267.6,155v5M1322,756v-5M1322,155v5M1349.2,756v-5M1349.2,155v5M1376.4,756v-5M1376.4,155v5M833.5,735.7h10M1419.4,735.7h-10M833.5,626.7h10M1419.4,626.7h-10M833.5,517.7h10M1419.4,517.7h-10M833.5,408.7h10M1419.4,408.7h-10M833.5,299.7h10M1419.4,299.7h-10M833.5,190.7h10M1419.4,190.7h-10M833.5,713.9h5M1419.4,713.9h-5M833.5,692.1h5M1419.4,692.1h-5M833.5,670.3h5M1419.4,670.3h-5M833.5,648.5h5M1419.4,648.5h-5M833.5,604.9h5M1419.4,604.9h-5M833.5,583.1h5M1419.4,583.1h-5M833.5,561.3h5M1419.4,561.3h-5M833.5,539.5h5M1419.4,539.5h-5M833.5,495.9h5M1419.4,495.9h-5M833.5,474.1h5M1419.4,474.1h-5M833.5,452.3h5M1419.4,452.3h-5M833.5,430.5h5M1419.4,430.5h-5M833.5,386.9h5M1419.4,386.9h-5M833.5,365.1h5M1419.4,365.1h-5M833.5,343.3h5M1419.4,343.3h-5M833.5,321.5h5M1419.4,321.5h-5M833.5,277.9h5M1419.4,277.9h-5M833.5,256.1h5M1419.4,256.1h-5M833.5,234.3h5M1419.4,234.3h-5M833.5,212.5h5M1419.4,212.5h-5M833.5,168.9h5M1419.4,168.9h-5" stroke="#000" stroke-width="1.5" fill="none"/>
<rect x="833.5" y="155" width="585.9" height="601" fill="none" stroke="#000" stroke-width="1.6"/>
<text x="562.6" y="43.6" font-size="45.5" text-anchor="start" class="t" textLength="312" lengthAdjust="spacingAndGlyphs">Gotland Station</text>
<text x="287" y="136" font-size="45.5" text-anchor="start" class="t" textLength="318.2" lengthAdjust="spacingAndGlyphs">Surface Salinity</text>
<text x="1007.2" y="136" font-size="45.5" text-anchor="start" class="t" textLength="308" lengthAdjust="spacingAndGlyphs">Bottom Salinity</text>
<text x="0" y="100.8" font-size="28.6" text-anchor="start" style="font-family:'Liberation Sans',sans-serif" font-weight="bold">A</text>
<text x="723" y="100.8" font-size="28.6" text-anchor="start" style="font-family:'Liberation Sans',sans-serif" font-weight="bold">B</text>
<path d="M353.9,189H413.2" stroke="#000" stroke-opacity="0.5" stroke-width="6.6"/>
<use href="#m" x="384.3" y="230"/>
<text x="432.1" y="199.1" font-size="29" text-anchor="start" textLength="148.1" lengthAdjust="spacingAndGlyphs">Model data</text>
<text x="432.1" y="238.2" font-size="29" text-anchor="start" textLength="249" lengthAdjust="spacingAndGlyphs">Measurement data</text>
<path d="M853.6,189H912.9" stroke="#000" stroke-opacity="0.5" stroke-width="6.6"/>
<use href="#m" x="884" y="230"/>
<text x="931.2" y="199.1" font-size="29" text-anchor="start" textLength="148.1" lengthAdjust="spacingAndGlyphs">Model data</text>
<text x="931.2" y="238.2" font-size="29" text-anchor="start" textLength="249" lengthAdjust="spacingAndGlyphs">Measurement data</text>
<text x="106.6" y="737.1" font-size="29" text-anchor="end" textLength="38" lengthAdjust="spacingAndGlyphs">6.0</text>
<text x="106.6" y="610.6" font-size="29" text-anchor="end" textLength="38" lengthAdjust="spacingAndGlyphs">6.5</text>
<text x="106.6" y="484.1" font-size="29" text-anchor="end" textLength="38" lengthAdjust="spacingAndGlyphs">7.0</text>
<text x="106.6" y="357.6" font-size="29" text-anchor="end" textLength="38" lengthAdjust="spacingAndGlyphs">7.5</text>
<text x="106.6" y="231.1" font-size="29" text-anchor="end" textLength="38" lengthAdjust="spacingAndGlyphs">8.0</text>
<text x="821.5" y="745.7" font-size="29" text-anchor="end" textLength="15" lengthAdjust="spacingAndGlyphs">9</text>
<text x="820" y="636.7" font-size="29" text-anchor="end" textLength="30.5" lengthAdjust="spacingAndGlyphs">10</text>
<text x="820" y="527.7" font-size="29" text-anchor="end" textLength="30.5" lengthAdjust="spacingAndGlyphs">11</text>
<text x="820" y="418.7" font-size="29" text-anchor="end" textLength="30.5" lengthAdjust="spacingAndGlyphs">12</text>
<text x="820" y="309.7" font-size="29" text-anchor="end" textLength="30.5" lengthAdjust="spacingAndGlyphs">13</text>
<text x="820" y="200.7" font-size="29" text-anchor="end" textLength="30.5" lengthAdjust="spacingAndGlyphs">14</text>
<text class="s" transform="translate(139.4,788) rotate(-30)" font-size="30" text-anchor="end" textLength="64" lengthAdjust="spacingAndGlyphs">1970</text>
<text class="s" transform="translate(854.3,788) rotate(-30)" font-size="30" text-anchor="end" textLength="64" lengthAdjust="spacingAndGlyphs">1970</text>
<text class="s" transform="translate(248.1,788) rotate(-30)" font-size="30" text-anchor="end" textLength="64" lengthAdjust="spacingAndGlyphs">1980</text>
<text class="s" transform="translate(963,788) rotate(-30)" font-size="30" text-anchor="end" textLength="64" lengthAdjust="spacingAndGlyphs">1980</text>
<text class="s" transform="translate(356.9,788) rotate(-30)" font-size="30" text-anchor="end" textLength="64" lengthAdjust="spacingAndGlyphs">1990</text>
<text class="s" transform="translate(1071.8,788) rotate(-30)" font-size="30" text-anchor="end" textLength="64" lengthAdjust="spacingAndGlyphs">1990</text>
<text class="s" transform="translate(465.6,788) rotate(-30)" font-size="30" text-anchor="end" textLength="64" lengthAdjust="spacingAndGlyphs">2000</text>
<text class="s" transform="translate(1180.5,788) rotate(-30)" font-size="30" text-anchor="end" textLength="64" lengthAdjust="spacingAndGlyphs">2000</text>
<text class="s" transform="translate(574.4,788) rotate(-30)" font-size="30" text-anchor="end" textLength="64" lengthAdjust="spacingAndGlyphs">2010</text>
<text class="s" transform="translate(1289.3,788) rotate(-30)" font-size="30" text-anchor="end" textLength="64" lengthAdjust="spacingAndGlyphs">2010</text>
<text class="s" transform="translate(683.1,788) rotate(-30)" font-size="30" text-anchor="end" textLength="64" lengthAdjust="spacingAndGlyphs">2020</text>
<text class="s" transform="translate(1398,788) rotate(-30)" font-size="30" text-anchor="end" textLength="64" lengthAdjust="spacingAndGlyphs">2020</text>
<text x="412.3" y="859.8" font-size="35.4" text-anchor="middle" textLength="80.5" lengthAdjust="spacingAndGlyphs">Time</text>
<text x="1126.5" y="859.8" font-size="35.4" text-anchor="middle" textLength="80.5" lengthAdjust="spacingAndGlyphs">Time</text>
<text transform="translate(46.8,457.7) rotate(-90)" font-size="35.4" text-anchor="middle" textLength="233" lengthAdjust="spacingAndGlyphs">Salinity (g/kg)</text>
<text transform="translate(767.6,457) rotate(-90)" font-size="35.4" text-anchor="middle" textLength="234" lengthAdjust="spacingAndGlyphs">Salinity (g/kg)</text>
</svg></body></html>
